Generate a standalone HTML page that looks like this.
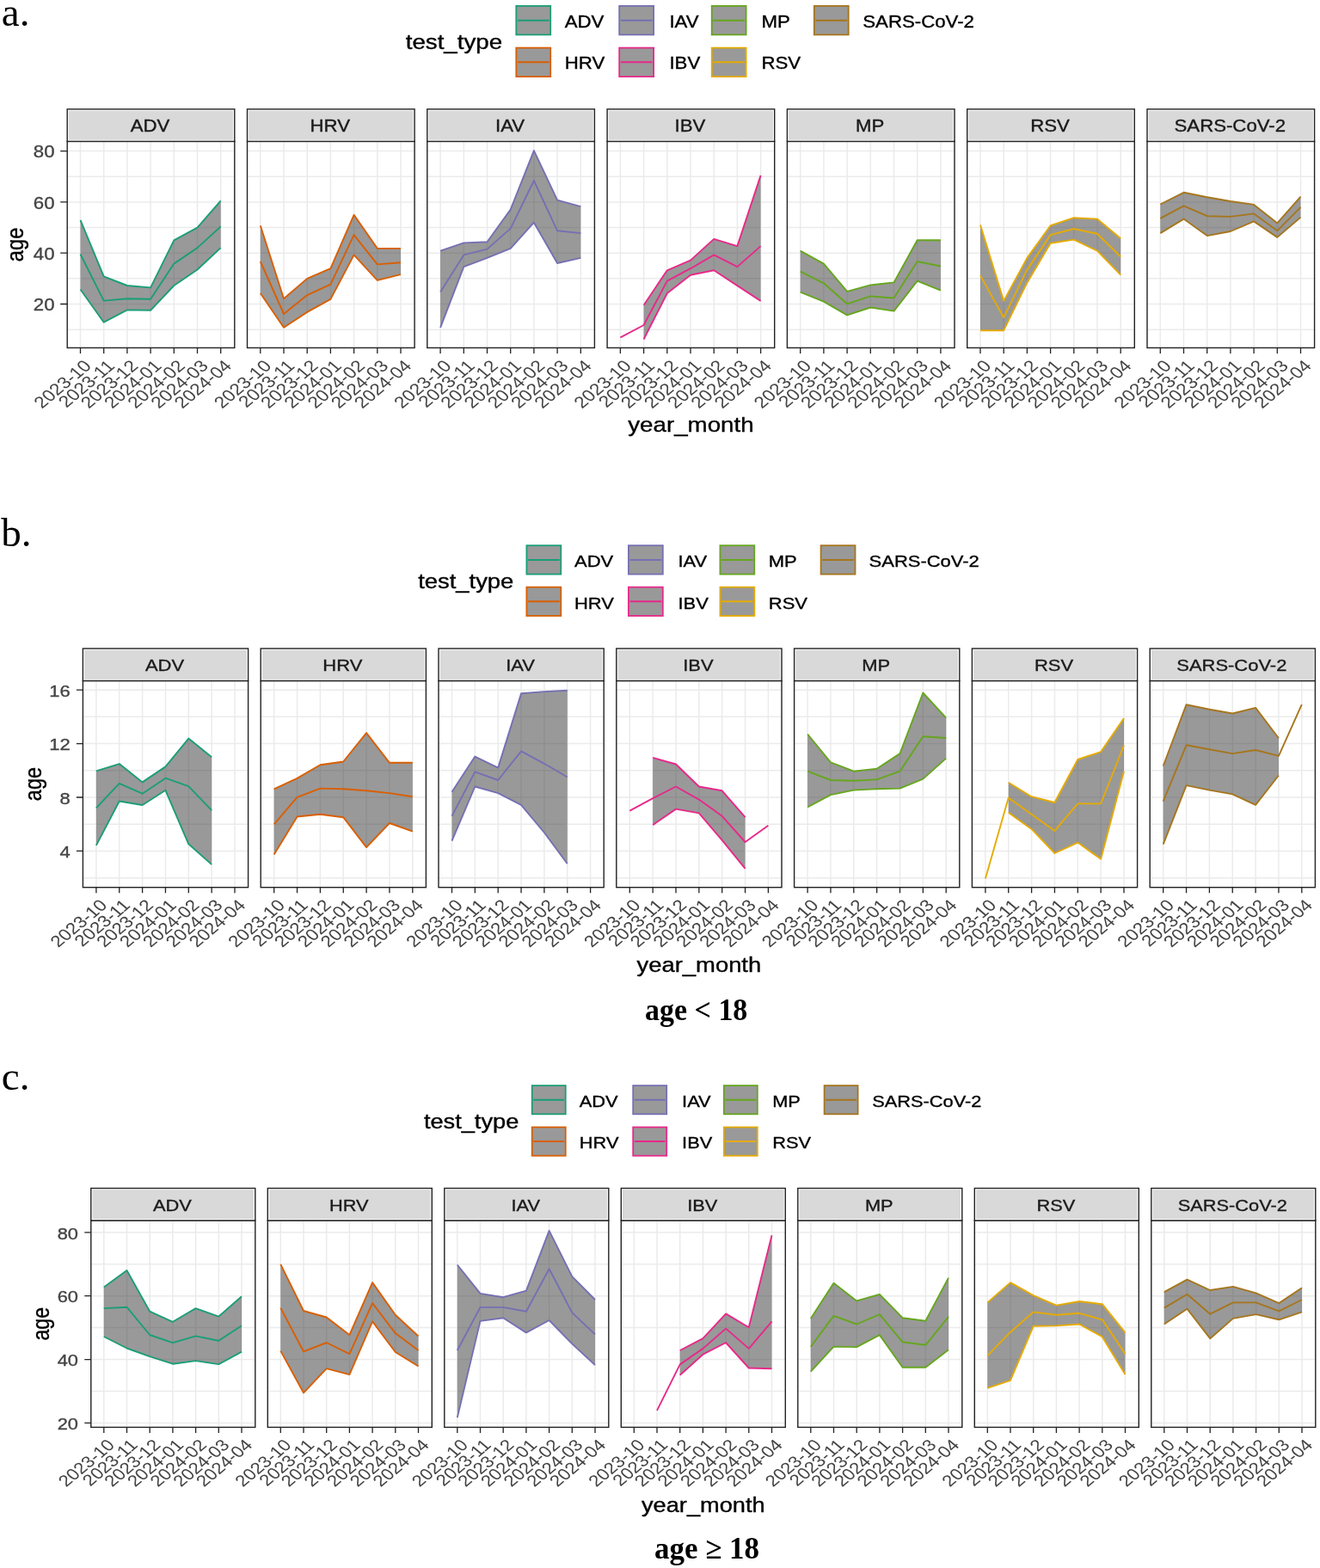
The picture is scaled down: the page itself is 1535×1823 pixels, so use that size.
<!DOCTYPE html>
<html><head><meta charset="utf-8"><title>Figure</title><style>html,body{margin:0;padding:0;background:#fff;}svg{display:block;}</style></head><body>
<svg width="1535" height="1823" viewBox="0 0 1535 1823">
<rect width="1535" height="1823" fill="#fff"/>
<rect x="78.2" y="164.4" width="194.6" height="240" fill="#fff"/>
<path d="M78.2 383.15H272.8M78.2 323.85H272.8M78.2 264.55H272.8M78.2 205.25H272.8" stroke="#EBEBEB" stroke-width="1.5" fill="none"/>
<path d="M78.2 353.5H272.8M78.2 294.2H272.8M78.2 234.9H272.8M78.2 175.6H272.8M93.5 164.4V404.4M120.7 164.4V404.4M147.9 164.4V404.4M175.1 164.4V404.4M202.3 164.4V404.4M229.5 164.4V404.4M256.7 164.4V404.4" stroke="#EBEBEB" stroke-width="1.5" fill="none"/>
<polygon points="93.5,255.8 120.7,321.3 147.9,332 175.1,334.4 202.3,279.3 229.5,264.6 256.7,233.4 256.7,288.1 229.5,313.5 202.3,332 175.1,360.8 147.9,360.4 120.7,374.7 93.5,336.5" fill="#333333" fill-opacity="0.5"/>
<polyline points="93.5,255.8 120.7,321.3 147.9,332 175.1,334.4 202.3,279.3 229.5,264.6 256.7,233.4" fill="none" stroke="#1B9E77" stroke-width="1.9" stroke-linejoin="round"/>
<polyline points="93.5,336.5 120.7,374.7 147.9,360.4 175.1,360.8 202.3,332 229.5,313.5 256.7,288.1" fill="none" stroke="#1B9E77" stroke-width="1.9" stroke-linejoin="round"/>
<polyline points="93.5,295.5 120.7,349.6 147.9,347.3 175.1,347.7 202.3,306.6 229.5,288.1 256.7,263.3" fill="none" stroke="#1B9E77" stroke-width="1.9" stroke-linejoin="round"/>
<rect x="78.2" y="164.4" width="194.6" height="240" fill="none" stroke="#222222" stroke-width="1.4"/>
<rect x="78.2" y="126.9" width="194.6" height="37.5" fill="#fff" stroke="#222222" stroke-width="1.4"/>
<rect x="79.9" y="128.6" width="191.2" height="34.1" fill="#D9D9D9"/>
<text transform="translate(174.5,153.17) scale(1.14,1)" font-size="19.5" text-anchor="middle" fill="#1A1A1A" font-family="'Liberation Sans', Arial, Helvetica, sans-serif" stroke="#1A1A1A" stroke-width="0.35">ADV</text>
<path d="M93.5 404.4V410.9M120.7 404.4V410.9M147.9 404.4V410.9M175.1 404.4V410.9M202.3 404.4V410.9M229.5 404.4V410.9M256.7 404.4V410.9" stroke="#222222" stroke-width="1.3" fill="none"/>
<text transform="translate(95.5,416.4) scale(1.19,1) rotate(-45)" font-size="19" text-anchor="end" fill="#444444" font-family="'Liberation Sans', Arial, Helvetica, sans-serif" dy="14.25">2023-10</text>
<text transform="translate(122.7,416.4) scale(1.19,1) rotate(-45)" font-size="19" text-anchor="end" fill="#444444" font-family="'Liberation Sans', Arial, Helvetica, sans-serif" dy="14.25">2023-11</text>
<text transform="translate(149.9,416.4) scale(1.19,1) rotate(-45)" font-size="19" text-anchor="end" fill="#444444" font-family="'Liberation Sans', Arial, Helvetica, sans-serif" dy="14.25">2023-12</text>
<text transform="translate(177.1,416.4) scale(1.19,1) rotate(-45)" font-size="19" text-anchor="end" fill="#444444" font-family="'Liberation Sans', Arial, Helvetica, sans-serif" dy="14.25">2024-01</text>
<text transform="translate(204.3,416.4) scale(1.19,1) rotate(-45)" font-size="19" text-anchor="end" fill="#444444" font-family="'Liberation Sans', Arial, Helvetica, sans-serif" dy="14.25">2024-02</text>
<text transform="translate(231.5,416.4) scale(1.19,1) rotate(-45)" font-size="19" text-anchor="end" fill="#444444" font-family="'Liberation Sans', Arial, Helvetica, sans-serif" dy="14.25">2024-03</text>
<text transform="translate(258.7,416.4) scale(1.19,1) rotate(-45)" font-size="19" text-anchor="end" fill="#444444" font-family="'Liberation Sans', Arial, Helvetica, sans-serif" dy="14.25">2024-04</text>
<rect x="287.5" y="164.4" width="194.6" height="240" fill="#fff"/>
<path d="M287.5 383.15H482.1M287.5 323.85H482.1M287.5 264.55H482.1M287.5 205.25H482.1" stroke="#EBEBEB" stroke-width="1.5" fill="none"/>
<path d="M287.5 353.5H482.1M287.5 294.2H482.1M287.5 234.9H482.1M287.5 175.6H482.1M302.8 164.4V404.4M330 164.4V404.4M357.2 164.4V404.4M384.4 164.4V404.4M411.6 164.4V404.4M438.8 164.4V404.4M466 164.4V404.4" stroke="#EBEBEB" stroke-width="1.5" fill="none"/>
<polygon points="302.8,262.2 330,347.2 357.2,323.9 384.4,312.2 411.6,249.8 438.8,288.9 466,288.9 466,319.1 438.8,325.9 411.6,296.4 384.4,347.9 357.2,362.9 330,380.8 302.8,341" fill="#333333" fill-opacity="0.5"/>
<polyline points="302.8,262.2 330,347.2 357.2,323.9 384.4,312.2 411.6,249.8 438.8,288.9 466,288.9" fill="none" stroke="#D95F02" stroke-width="1.9" stroke-linejoin="round"/>
<polyline points="302.8,341 330,380.8 357.2,362.9 384.4,347.9 411.6,296.4 438.8,325.9 466,319.1" fill="none" stroke="#D95F02" stroke-width="1.9" stroke-linejoin="round"/>
<polyline points="302.8,304 330,365 357.2,343.1 384.4,330.7 411.6,273.1 438.8,307.4 466,305.3" fill="none" stroke="#D95F02" stroke-width="1.9" stroke-linejoin="round"/>
<rect x="287.5" y="164.4" width="194.6" height="240" fill="none" stroke="#222222" stroke-width="1.4"/>
<rect x="287.5" y="126.9" width="194.6" height="37.5" fill="#fff" stroke="#222222" stroke-width="1.4"/>
<rect x="289.2" y="128.6" width="191.2" height="34.1" fill="#D9D9D9"/>
<text transform="translate(383.8,153.17) scale(1.14,1)" font-size="19.5" text-anchor="middle" fill="#1A1A1A" font-family="'Liberation Sans', Arial, Helvetica, sans-serif" stroke="#1A1A1A" stroke-width="0.35">HRV</text>
<path d="M302.8 404.4V410.9M330 404.4V410.9M357.2 404.4V410.9M384.4 404.4V410.9M411.6 404.4V410.9M438.8 404.4V410.9M466 404.4V410.9" stroke="#222222" stroke-width="1.3" fill="none"/>
<text transform="translate(304.8,416.4) scale(1.19,1) rotate(-45)" font-size="19" text-anchor="end" fill="#444444" font-family="'Liberation Sans', Arial, Helvetica, sans-serif" dy="14.25">2023-10</text>
<text transform="translate(332,416.4) scale(1.19,1) rotate(-45)" font-size="19" text-anchor="end" fill="#444444" font-family="'Liberation Sans', Arial, Helvetica, sans-serif" dy="14.25">2023-11</text>
<text transform="translate(359.2,416.4) scale(1.19,1) rotate(-45)" font-size="19" text-anchor="end" fill="#444444" font-family="'Liberation Sans', Arial, Helvetica, sans-serif" dy="14.25">2023-12</text>
<text transform="translate(386.4,416.4) scale(1.19,1) rotate(-45)" font-size="19" text-anchor="end" fill="#444444" font-family="'Liberation Sans', Arial, Helvetica, sans-serif" dy="14.25">2024-01</text>
<text transform="translate(413.6,416.4) scale(1.19,1) rotate(-45)" font-size="19" text-anchor="end" fill="#444444" font-family="'Liberation Sans', Arial, Helvetica, sans-serif" dy="14.25">2024-02</text>
<text transform="translate(440.8,416.4) scale(1.19,1) rotate(-45)" font-size="19" text-anchor="end" fill="#444444" font-family="'Liberation Sans', Arial, Helvetica, sans-serif" dy="14.25">2024-03</text>
<text transform="translate(468,416.4) scale(1.19,1) rotate(-45)" font-size="19" text-anchor="end" fill="#444444" font-family="'Liberation Sans', Arial, Helvetica, sans-serif" dy="14.25">2024-04</text>
<rect x="496.8" y="164.4" width="194.6" height="240" fill="#fff"/>
<path d="M496.8 383.15H691.4M496.8 323.85H691.4M496.8 264.55H691.4M496.8 205.25H691.4" stroke="#EBEBEB" stroke-width="1.5" fill="none"/>
<path d="M496.8 353.5H691.4M496.8 294.2H691.4M496.8 234.9H691.4M496.8 175.6H691.4M512.1 164.4V404.4M539.3 164.4V404.4M566.5 164.4V404.4M593.7 164.4V404.4M620.9 164.4V404.4M648.1 164.4V404.4M675.3 164.4V404.4" stroke="#EBEBEB" stroke-width="1.5" fill="none"/>
<polygon points="512.1,291.6 539.3,282.4 566.5,281.3 593.7,243.6 620.9,175.1 648.1,232.7 675.3,240.2 675.3,299.9 648.1,306 620.9,258.7 593.7,288.9 566.5,299.9 539.3,310.1 512.1,380.8" fill="#333333" fill-opacity="0.5"/>
<polyline points="512.1,291.6 539.3,282.4 566.5,281.3 593.7,243.6 620.9,175.1 648.1,232.7 675.3,240.2" fill="none" stroke="#7570B3" stroke-width="1.9" stroke-linejoin="round"/>
<polyline points="512.1,380.8 539.3,310.1 566.5,299.9 593.7,288.9 620.9,258.7 648.1,306 675.3,299.9" fill="none" stroke="#7570B3" stroke-width="1.9" stroke-linejoin="round"/>
<polyline points="512.1,339.6 539.3,296.4 566.5,289.6 593.7,265.6 620.9,210 648.1,268.3 675.3,271.1" fill="none" stroke="#7570B3" stroke-width="1.9" stroke-linejoin="round"/>
<rect x="496.8" y="164.4" width="194.6" height="240" fill="none" stroke="#222222" stroke-width="1.4"/>
<rect x="496.8" y="126.9" width="194.6" height="37.5" fill="#fff" stroke="#222222" stroke-width="1.4"/>
<rect x="498.5" y="128.6" width="191.2" height="34.1" fill="#D9D9D9"/>
<text transform="translate(593.1,153.17) scale(1.14,1)" font-size="19.5" text-anchor="middle" fill="#1A1A1A" font-family="'Liberation Sans', Arial, Helvetica, sans-serif" stroke="#1A1A1A" stroke-width="0.35">IAV</text>
<path d="M512.1 404.4V410.9M539.3 404.4V410.9M566.5 404.4V410.9M593.7 404.4V410.9M620.9 404.4V410.9M648.1 404.4V410.9M675.3 404.4V410.9" stroke="#222222" stroke-width="1.3" fill="none"/>
<text transform="translate(514.1,416.4) scale(1.19,1) rotate(-45)" font-size="19" text-anchor="end" fill="#444444" font-family="'Liberation Sans', Arial, Helvetica, sans-serif" dy="14.25">2023-10</text>
<text transform="translate(541.3,416.4) scale(1.19,1) rotate(-45)" font-size="19" text-anchor="end" fill="#444444" font-family="'Liberation Sans', Arial, Helvetica, sans-serif" dy="14.25">2023-11</text>
<text transform="translate(568.5,416.4) scale(1.19,1) rotate(-45)" font-size="19" text-anchor="end" fill="#444444" font-family="'Liberation Sans', Arial, Helvetica, sans-serif" dy="14.25">2023-12</text>
<text transform="translate(595.7,416.4) scale(1.19,1) rotate(-45)" font-size="19" text-anchor="end" fill="#444444" font-family="'Liberation Sans', Arial, Helvetica, sans-serif" dy="14.25">2024-01</text>
<text transform="translate(622.9,416.4) scale(1.19,1) rotate(-45)" font-size="19" text-anchor="end" fill="#444444" font-family="'Liberation Sans', Arial, Helvetica, sans-serif" dy="14.25">2024-02</text>
<text transform="translate(650.1,416.4) scale(1.19,1) rotate(-45)" font-size="19" text-anchor="end" fill="#444444" font-family="'Liberation Sans', Arial, Helvetica, sans-serif" dy="14.25">2024-03</text>
<text transform="translate(677.3,416.4) scale(1.19,1) rotate(-45)" font-size="19" text-anchor="end" fill="#444444" font-family="'Liberation Sans', Arial, Helvetica, sans-serif" dy="14.25">2024-04</text>
<rect x="706.1" y="164.4" width="194.6" height="240" fill="#fff"/>
<path d="M706.1 383.15H900.7M706.1 323.85H900.7M706.1 264.55H900.7M706.1 205.25H900.7" stroke="#EBEBEB" stroke-width="1.5" fill="none"/>
<path d="M706.1 353.5H900.7M706.1 294.2H900.7M706.1 234.9H900.7M706.1 175.6H900.7M721.4 164.4V404.4M748.6 164.4V404.4M775.8 164.4V404.4M803 164.4V404.4M830.2 164.4V404.4M857.4 164.4V404.4M884.6 164.4V404.4" stroke="#EBEBEB" stroke-width="1.5" fill="none"/>
<polygon points="748.6,354.7 775.8,314.3 803,302.6 830.2,277.9 857.4,286.1 884.6,203.9 884.6,349.9 857.4,332.1 830.2,314.3 803,319.7 775.8,341 748.6,394.5" fill="#333333" fill-opacity="0.5"/>
<polyline points="748.6,354.7 775.8,314.3 803,302.6 830.2,277.9 857.4,286.1 884.6,203.9" fill="none" stroke="#E7298A" stroke-width="1.9" stroke-linejoin="round"/>
<polyline points="748.6,394.5 775.8,341 803,319.7 830.2,314.3 857.4,332.1 884.6,349.9" fill="none" stroke="#E7298A" stroke-width="1.9" stroke-linejoin="round"/>
<polyline points="721.4,392.4 748.6,378 775.8,326.6 803,312.2 830.2,296.4 857.4,310.1 884.6,286.1" fill="none" stroke="#E7298A" stroke-width="1.9" stroke-linejoin="round"/>
<rect x="706.1" y="164.4" width="194.6" height="240" fill="none" stroke="#222222" stroke-width="1.4"/>
<rect x="706.1" y="126.9" width="194.6" height="37.5" fill="#fff" stroke="#222222" stroke-width="1.4"/>
<rect x="707.8" y="128.6" width="191.2" height="34.1" fill="#D9D9D9"/>
<text transform="translate(802.4,153.17) scale(1.14,1)" font-size="19.5" text-anchor="middle" fill="#1A1A1A" font-family="'Liberation Sans', Arial, Helvetica, sans-serif" stroke="#1A1A1A" stroke-width="0.35">IBV</text>
<path d="M721.4 404.4V410.9M748.6 404.4V410.9M775.8 404.4V410.9M803 404.4V410.9M830.2 404.4V410.9M857.4 404.4V410.9M884.6 404.4V410.9" stroke="#222222" stroke-width="1.3" fill="none"/>
<text transform="translate(723.4,416.4) scale(1.19,1) rotate(-45)" font-size="19" text-anchor="end" fill="#444444" font-family="'Liberation Sans', Arial, Helvetica, sans-serif" dy="14.25">2023-10</text>
<text transform="translate(750.6,416.4) scale(1.19,1) rotate(-45)" font-size="19" text-anchor="end" fill="#444444" font-family="'Liberation Sans', Arial, Helvetica, sans-serif" dy="14.25">2023-11</text>
<text transform="translate(777.8,416.4) scale(1.19,1) rotate(-45)" font-size="19" text-anchor="end" fill="#444444" font-family="'Liberation Sans', Arial, Helvetica, sans-serif" dy="14.25">2023-12</text>
<text transform="translate(805,416.4) scale(1.19,1) rotate(-45)" font-size="19" text-anchor="end" fill="#444444" font-family="'Liberation Sans', Arial, Helvetica, sans-serif" dy="14.25">2024-01</text>
<text transform="translate(832.2,416.4) scale(1.19,1) rotate(-45)" font-size="19" text-anchor="end" fill="#444444" font-family="'Liberation Sans', Arial, Helvetica, sans-serif" dy="14.25">2024-02</text>
<text transform="translate(859.4,416.4) scale(1.19,1) rotate(-45)" font-size="19" text-anchor="end" fill="#444444" font-family="'Liberation Sans', Arial, Helvetica, sans-serif" dy="14.25">2024-03</text>
<text transform="translate(886.6,416.4) scale(1.19,1) rotate(-45)" font-size="19" text-anchor="end" fill="#444444" font-family="'Liberation Sans', Arial, Helvetica, sans-serif" dy="14.25">2024-04</text>
<rect x="915.4" y="164.4" width="194.6" height="240" fill="#fff"/>
<path d="M915.4 383.15H1110M915.4 323.85H1110M915.4 264.55H1110M915.4 205.25H1110" stroke="#EBEBEB" stroke-width="1.5" fill="none"/>
<path d="M915.4 353.5H1110M915.4 294.2H1110M915.4 234.9H1110M915.4 175.6H1110M930.7 164.4V404.4M957.9 164.4V404.4M985.1 164.4V404.4M1012.3 164.4V404.4M1039.5 164.4V404.4M1066.7 164.4V404.4M1093.9 164.4V404.4" stroke="#EBEBEB" stroke-width="1.5" fill="none"/>
<polygon points="930.7,291.6 957.9,306.7 985.1,338.9 1012.3,331.4 1039.5,328.4 1066.7,279.3 1093.9,279.3 1093.9,337.6 1066.7,326.6 1039.5,361.6 1012.3,357.5 985.1,366.4 957.9,350.6 930.7,339.6" fill="#333333" fill-opacity="0.5"/>
<polyline points="930.7,291.6 957.9,306.7 985.1,338.9 1012.3,331.4 1039.5,328.4 1066.7,279.3 1093.9,279.3" fill="none" stroke="#66A61E" stroke-width="1.9" stroke-linejoin="round"/>
<polyline points="930.7,339.6 957.9,350.6 985.1,366.4 1012.3,357.5 1039.5,361.6 1066.7,326.6 1093.9,337.6" fill="none" stroke="#66A61E" stroke-width="1.9" stroke-linejoin="round"/>
<polyline points="930.7,315.6 957.9,329.3 985.1,353.3 1012.3,344.4 1039.5,346.5 1066.7,304 1093.9,309.5" fill="none" stroke="#66A61E" stroke-width="1.9" stroke-linejoin="round"/>
<rect x="915.4" y="164.4" width="194.6" height="240" fill="none" stroke="#222222" stroke-width="1.4"/>
<rect x="915.4" y="126.9" width="194.6" height="37.5" fill="#fff" stroke="#222222" stroke-width="1.4"/>
<rect x="917.1" y="128.6" width="191.2" height="34.1" fill="#D9D9D9"/>
<text transform="translate(1011.7,153.17) scale(1.14,1)" font-size="19.5" text-anchor="middle" fill="#1A1A1A" font-family="'Liberation Sans', Arial, Helvetica, sans-serif" stroke="#1A1A1A" stroke-width="0.35">MP</text>
<path d="M930.7 404.4V410.9M957.9 404.4V410.9M985.1 404.4V410.9M1012.3 404.4V410.9M1039.5 404.4V410.9M1066.7 404.4V410.9M1093.9 404.4V410.9" stroke="#222222" stroke-width="1.3" fill="none"/>
<text transform="translate(932.7,416.4) scale(1.19,1) rotate(-45)" font-size="19" text-anchor="end" fill="#444444" font-family="'Liberation Sans', Arial, Helvetica, sans-serif" dy="14.25">2023-10</text>
<text transform="translate(959.9,416.4) scale(1.19,1) rotate(-45)" font-size="19" text-anchor="end" fill="#444444" font-family="'Liberation Sans', Arial, Helvetica, sans-serif" dy="14.25">2023-11</text>
<text transform="translate(987.1,416.4) scale(1.19,1) rotate(-45)" font-size="19" text-anchor="end" fill="#444444" font-family="'Liberation Sans', Arial, Helvetica, sans-serif" dy="14.25">2023-12</text>
<text transform="translate(1014.3,416.4) scale(1.19,1) rotate(-45)" font-size="19" text-anchor="end" fill="#444444" font-family="'Liberation Sans', Arial, Helvetica, sans-serif" dy="14.25">2024-01</text>
<text transform="translate(1041.5,416.4) scale(1.19,1) rotate(-45)" font-size="19" text-anchor="end" fill="#444444" font-family="'Liberation Sans', Arial, Helvetica, sans-serif" dy="14.25">2024-02</text>
<text transform="translate(1068.7,416.4) scale(1.19,1) rotate(-45)" font-size="19" text-anchor="end" fill="#444444" font-family="'Liberation Sans', Arial, Helvetica, sans-serif" dy="14.25">2024-03</text>
<text transform="translate(1095.9,416.4) scale(1.19,1) rotate(-45)" font-size="19" text-anchor="end" fill="#444444" font-family="'Liberation Sans', Arial, Helvetica, sans-serif" dy="14.25">2024-04</text>
<rect x="1124.7" y="164.4" width="194.6" height="240" fill="#fff"/>
<path d="M1124.7 383.15H1319.3M1124.7 323.85H1319.3M1124.7 264.55H1319.3M1124.7 205.25H1319.3" stroke="#EBEBEB" stroke-width="1.5" fill="none"/>
<path d="M1124.7 353.5H1319.3M1124.7 294.2H1319.3M1124.7 234.9H1319.3M1124.7 175.6H1319.3M1140 164.4V404.4M1167.2 164.4V404.4M1194.4 164.4V404.4M1221.6 164.4V404.4M1248.8 164.4V404.4M1276 164.4V404.4M1303.2 164.4V404.4" stroke="#EBEBEB" stroke-width="1.5" fill="none"/>
<polygon points="1140,261.5 1167.2,349.9 1194.4,299.9 1221.6,262.2 1248.8,253.2 1276,254.6 1303.2,277.2 1303.2,319.7 1276,291.6 1248.8,278.6 1221.6,282.7 1194.4,328.7 1167.2,384.2 1140,384.2" fill="#333333" fill-opacity="0.5"/>
<polyline points="1140,261.5 1167.2,349.9 1194.4,299.9 1221.6,262.2 1248.8,253.2 1276,254.6 1303.2,277.2" fill="none" stroke="#E6AB02" stroke-width="1.9" stroke-linejoin="round"/>
<polyline points="1140,384.2 1167.2,384.2 1194.4,328.7 1221.6,282.7 1248.8,278.6 1276,291.6 1303.2,319.7" fill="none" stroke="#E6AB02" stroke-width="1.9" stroke-linejoin="round"/>
<polyline points="1140,320.4 1167.2,369.1 1194.4,313.6 1221.6,273.1 1248.8,266 1276,271.8 1303.2,298.5" fill="none" stroke="#E6AB02" stroke-width="1.9" stroke-linejoin="round"/>
<rect x="1124.7" y="164.4" width="194.6" height="240" fill="none" stroke="#222222" stroke-width="1.4"/>
<rect x="1124.7" y="126.9" width="194.6" height="37.5" fill="#fff" stroke="#222222" stroke-width="1.4"/>
<rect x="1126.4" y="128.6" width="191.2" height="34.1" fill="#D9D9D9"/>
<text transform="translate(1221,153.17) scale(1.14,1)" font-size="19.5" text-anchor="middle" fill="#1A1A1A" font-family="'Liberation Sans', Arial, Helvetica, sans-serif" stroke="#1A1A1A" stroke-width="0.35">RSV</text>
<path d="M1140 404.4V410.9M1167.2 404.4V410.9M1194.4 404.4V410.9M1221.6 404.4V410.9M1248.8 404.4V410.9M1276 404.4V410.9M1303.2 404.4V410.9" stroke="#222222" stroke-width="1.3" fill="none"/>
<text transform="translate(1142,416.4) scale(1.19,1) rotate(-45)" font-size="19" text-anchor="end" fill="#444444" font-family="'Liberation Sans', Arial, Helvetica, sans-serif" dy="14.25">2023-10</text>
<text transform="translate(1169.2,416.4) scale(1.19,1) rotate(-45)" font-size="19" text-anchor="end" fill="#444444" font-family="'Liberation Sans', Arial, Helvetica, sans-serif" dy="14.25">2023-11</text>
<text transform="translate(1196.4,416.4) scale(1.19,1) rotate(-45)" font-size="19" text-anchor="end" fill="#444444" font-family="'Liberation Sans', Arial, Helvetica, sans-serif" dy="14.25">2023-12</text>
<text transform="translate(1223.6,416.4) scale(1.19,1) rotate(-45)" font-size="19" text-anchor="end" fill="#444444" font-family="'Liberation Sans', Arial, Helvetica, sans-serif" dy="14.25">2024-01</text>
<text transform="translate(1250.8,416.4) scale(1.19,1) rotate(-45)" font-size="19" text-anchor="end" fill="#444444" font-family="'Liberation Sans', Arial, Helvetica, sans-serif" dy="14.25">2024-02</text>
<text transform="translate(1278,416.4) scale(1.19,1) rotate(-45)" font-size="19" text-anchor="end" fill="#444444" font-family="'Liberation Sans', Arial, Helvetica, sans-serif" dy="14.25">2024-03</text>
<text transform="translate(1305.2,416.4) scale(1.19,1) rotate(-45)" font-size="19" text-anchor="end" fill="#444444" font-family="'Liberation Sans', Arial, Helvetica, sans-serif" dy="14.25">2024-04</text>
<rect x="1334" y="164.4" width="194.6" height="240" fill="#fff"/>
<path d="M1334 383.15H1528.6M1334 323.85H1528.6M1334 264.55H1528.6M1334 205.25H1528.6" stroke="#EBEBEB" stroke-width="1.5" fill="none"/>
<path d="M1334 353.5H1528.6M1334 294.2H1528.6M1334 234.9H1528.6M1334 175.6H1528.6M1349.3 164.4V404.4M1376.5 164.4V404.4M1403.7 164.4V404.4M1430.9 164.4V404.4M1458.1 164.4V404.4M1485.3 164.4V404.4M1512.5 164.4V404.4" stroke="#EBEBEB" stroke-width="1.5" fill="none"/>
<polygon points="1349.3,237.5 1376.5,223.8 1403.7,229.2 1430.9,234 1458.1,237.9 1485.3,259.4 1512.5,228.6 1512.5,252.6 1485.3,275.9 1458.1,257.4 1430.9,269 1403.7,274.1 1376.5,254.6 1349.3,271.1" fill="#333333" fill-opacity="0.5"/>
<polyline points="1349.3,237.5 1376.5,223.8 1403.7,229.2 1430.9,234 1458.1,237.9 1485.3,259.4 1512.5,228.6" fill="none" stroke="#A6761D" stroke-width="1.9" stroke-linejoin="round"/>
<polyline points="1349.3,271.1 1376.5,254.6 1403.7,274.1 1430.9,269 1458.1,257.4 1485.3,275.9 1512.5,252.6" fill="none" stroke="#A6761D" stroke-width="1.9" stroke-linejoin="round"/>
<polyline points="1349.3,253.9 1376.5,239.3 1403.7,251.2 1430.9,251.9 1458.1,248.4 1485.3,268.3 1512.5,240.9" fill="none" stroke="#A6761D" stroke-width="1.9" stroke-linejoin="round"/>
<rect x="1334" y="164.4" width="194.6" height="240" fill="none" stroke="#222222" stroke-width="1.4"/>
<rect x="1334" y="126.9" width="194.6" height="37.5" fill="#fff" stroke="#222222" stroke-width="1.4"/>
<rect x="1335.7" y="128.6" width="191.2" height="34.1" fill="#D9D9D9"/>
<text transform="translate(1430.3,153.17) scale(1.14,1)" font-size="19.5" text-anchor="middle" fill="#1A1A1A" font-family="'Liberation Sans', Arial, Helvetica, sans-serif" stroke="#1A1A1A" stroke-width="0.35">SARS-CoV-2</text>
<path d="M1349.3 404.4V410.9M1376.5 404.4V410.9M1403.7 404.4V410.9M1430.9 404.4V410.9M1458.1 404.4V410.9M1485.3 404.4V410.9M1512.5 404.4V410.9" stroke="#222222" stroke-width="1.3" fill="none"/>
<text transform="translate(1351.3,416.4) scale(1.19,1) rotate(-45)" font-size="19" text-anchor="end" fill="#444444" font-family="'Liberation Sans', Arial, Helvetica, sans-serif" dy="14.25">2023-10</text>
<text transform="translate(1378.5,416.4) scale(1.19,1) rotate(-45)" font-size="19" text-anchor="end" fill="#444444" font-family="'Liberation Sans', Arial, Helvetica, sans-serif" dy="14.25">2023-11</text>
<text transform="translate(1405.7,416.4) scale(1.19,1) rotate(-45)" font-size="19" text-anchor="end" fill="#444444" font-family="'Liberation Sans', Arial, Helvetica, sans-serif" dy="14.25">2023-12</text>
<text transform="translate(1432.9,416.4) scale(1.19,1) rotate(-45)" font-size="19" text-anchor="end" fill="#444444" font-family="'Liberation Sans', Arial, Helvetica, sans-serif" dy="14.25">2024-01</text>
<text transform="translate(1460.1,416.4) scale(1.19,1) rotate(-45)" font-size="19" text-anchor="end" fill="#444444" font-family="'Liberation Sans', Arial, Helvetica, sans-serif" dy="14.25">2024-02</text>
<text transform="translate(1487.3,416.4) scale(1.19,1) rotate(-45)" font-size="19" text-anchor="end" fill="#444444" font-family="'Liberation Sans', Arial, Helvetica, sans-serif" dy="14.25">2024-03</text>
<text transform="translate(1514.5,416.4) scale(1.19,1) rotate(-45)" font-size="19" text-anchor="end" fill="#444444" font-family="'Liberation Sans', Arial, Helvetica, sans-serif" dy="14.25">2024-04</text>
<text transform="translate(63.5,361.32) scale(1.14,1)" font-size="19.5" text-anchor="end" fill="#444444" font-family="'Liberation Sans', Arial, Helvetica, sans-serif" stroke="#444444" stroke-width="0.35">20</text>
<text transform="translate(63.5,302.02) scale(1.14,1)" font-size="19.5" text-anchor="end" fill="#444444" font-family="'Liberation Sans', Arial, Helvetica, sans-serif" stroke="#444444" stroke-width="0.35">40</text>
<text transform="translate(63.5,242.72) scale(1.14,1)" font-size="19.5" text-anchor="end" fill="#444444" font-family="'Liberation Sans', Arial, Helvetica, sans-serif" stroke="#444444" stroke-width="0.35">60</text>
<text transform="translate(63.5,183.42) scale(1.14,1)" font-size="19.5" text-anchor="end" fill="#444444" font-family="'Liberation Sans', Arial, Helvetica, sans-serif" stroke="#444444" stroke-width="0.35">80</text>
<path d="M70.2 353.5H78.2M70.2 294.2H78.2M70.2 234.9H78.2M70.2 175.6H78.2" stroke="#222222" stroke-width="1.3" fill="none"/>
<text transform="translate(27.3,284.4) scale(1.17,1) rotate(-90)" font-size="23.7" text-anchor="middle" fill="#000" font-family="'Liberation Sans', Arial, Helvetica, sans-serif" stroke="#000" stroke-width="0.35">age</text>
<text transform="translate(803.4,502.3) scale(1.17,1)" font-size="23.7" text-anchor="middle" fill="#000" font-family="'Liberation Sans', Arial, Helvetica, sans-serif" stroke="#000" stroke-width="0.35">year_month</text>
<text transform="translate(471.7,56.8) scale(1.17,1)" font-size="23.7" text-anchor="start" fill="#000" font-family="'Liberation Sans', Arial, Helvetica, sans-serif" stroke="#000" stroke-width="0.35">test_type</text>
<rect x="600.3" y="6.9" width="39.9" height="33.5" fill="#999999" stroke="#1B9E77" stroke-width="1.8"/>
<path d="M601.9 23.65H638.6" stroke="#1B9E77" stroke-width="2"/>
<text transform="translate(656.7,31.8) scale(1.14,1)" font-size="19.5" text-anchor="start" fill="#000" font-family="'Liberation Sans', Arial, Helvetica, sans-serif" stroke="#000" stroke-width="0.35">ADV</text>
<rect x="600.3" y="55.6" width="39.9" height="33.5" fill="#999999" stroke="#D95F02" stroke-width="1.8"/>
<path d="M601.9 72.35H638.6" stroke="#D95F02" stroke-width="2"/>
<text transform="translate(656.7,80.2) scale(1.14,1)" font-size="19.5" text-anchor="start" fill="#000" font-family="'Liberation Sans', Arial, Helvetica, sans-serif" stroke="#000" stroke-width="0.35">HRV</text>
<rect x="720.2" y="6.9" width="39.9" height="33.5" fill="#999999" stroke="#7570B3" stroke-width="1.8"/>
<path d="M721.8 23.65H758.5" stroke="#7570B3" stroke-width="2"/>
<text transform="translate(778.4,31.8) scale(1.14,1)" font-size="19.5" text-anchor="start" fill="#000" font-family="'Liberation Sans', Arial, Helvetica, sans-serif" stroke="#000" stroke-width="0.35">IAV</text>
<rect x="720.2" y="55.6" width="39.9" height="33.5" fill="#999999" stroke="#E7298A" stroke-width="1.8"/>
<path d="M721.8 72.35H758.5" stroke="#E7298A" stroke-width="2"/>
<text transform="translate(778.4,80.2) scale(1.14,1)" font-size="19.5" text-anchor="start" fill="#000" font-family="'Liberation Sans', Arial, Helvetica, sans-serif" stroke="#000" stroke-width="0.35">IBV</text>
<rect x="827.7" y="6.9" width="39.9" height="33.5" fill="#999999" stroke="#66A61E" stroke-width="1.8"/>
<path d="M829.3 23.65H866" stroke="#66A61E" stroke-width="2"/>
<text transform="translate(885.5,31.8) scale(1.14,1)" font-size="19.5" text-anchor="start" fill="#000" font-family="'Liberation Sans', Arial, Helvetica, sans-serif" stroke="#000" stroke-width="0.35">MP</text>
<rect x="827.7" y="55.6" width="39.9" height="33.5" fill="#999999" stroke="#E6AB02" stroke-width="1.8"/>
<path d="M829.3 72.35H866" stroke="#E6AB02" stroke-width="2"/>
<text transform="translate(885.5,80.2) scale(1.14,1)" font-size="19.5" text-anchor="start" fill="#000" font-family="'Liberation Sans', Arial, Helvetica, sans-serif" stroke="#000" stroke-width="0.35">RSV</text>
<rect x="946.8" y="6.9" width="39.9" height="33.5" fill="#999999" stroke="#A6761D" stroke-width="1.8"/>
<path d="M948.4 23.65H985.1" stroke="#A6761D" stroke-width="2"/>
<text transform="translate(1003.3,31.8) scale(1.14,1)" font-size="19.5" text-anchor="start" fill="#000" font-family="'Liberation Sans', Arial, Helvetica, sans-serif" stroke="#000" stroke-width="0.35">SARS-CoV-2</text>
<text transform="translate(1.8,30.1)" font-size="47" text-anchor="start" fill="#000" font-family="'Liberation Serif', 'Times New Roman', serif">a.</text>
<rect x="96.4" y="791.5" width="192.2" height="240.2" fill="#fff"/>
<path d="M96.4 1020.68H288.6M96.4 958.24H288.6M96.4 895.8H288.6M96.4 833.36H288.6" stroke="#EBEBEB" stroke-width="1.5" fill="none"/>
<path d="M96.4 989.46H288.6M96.4 927.02H288.6M96.4 864.58H288.6M96.4 802.14H288.6M111.9 791.5V1031.7M138.75 791.5V1031.7M165.6 791.5V1031.7M192.45 791.5V1031.7M219.3 791.5V1031.7M246.15 791.5V1031.7M273 791.5V1031.7" stroke="#EBEBEB" stroke-width="1.5" fill="none"/>
<polygon points="111.9,896.3 138.75,888.1 165.6,909.4 192.45,891.4 219.3,858.6 246.15,880.3 246.15,1005.1 219.3,981.3 192.45,918.8 165.6,936 138.75,931.5 111.9,982.9" fill="#333333" fill-opacity="0.5"/>
<polyline points="111.9,896.3 138.75,888.1 165.6,909.4 192.45,891.4 219.3,858.6 246.15,880.3" fill="none" stroke="#1B9E77" stroke-width="1.9" stroke-linejoin="round"/>
<polyline points="111.9,982.9 138.75,931.5 165.6,936 192.45,918.8 219.3,981.3 246.15,1005.1" fill="none" stroke="#1B9E77" stroke-width="1.9" stroke-linejoin="round"/>
<polyline points="111.9,939.3 138.75,910.9 165.6,922.7 192.45,904.7 219.3,914.1 246.15,942.2" fill="none" stroke="#1B9E77" stroke-width="1.9" stroke-linejoin="round"/>
<rect x="96.4" y="791.5" width="192.2" height="240.2" fill="none" stroke="#222222" stroke-width="1.4"/>
<rect x="96.4" y="754" width="192.2" height="37.5" fill="#fff" stroke="#222222" stroke-width="1.4"/>
<rect x="98.1" y="755.7" width="188.8" height="34.1" fill="#D9D9D9"/>
<text transform="translate(191.5,780.19) scale(1.14,1)" font-size="19.27" text-anchor="middle" fill="#1A1A1A" font-family="'Liberation Sans', Arial, Helvetica, sans-serif" stroke="#1A1A1A" stroke-width="0.35">ADV</text>
<path d="M111.9 1031.7V1038.2M138.75 1031.7V1038.2M165.6 1031.7V1038.2M192.45 1031.7V1038.2M219.3 1031.7V1038.2M246.15 1031.7V1038.2M273 1031.7V1038.2" stroke="#222222" stroke-width="1.3" fill="none"/>
<text transform="translate(113.9,1043.7) scale(1.19,1) rotate(-45)" font-size="18.77" text-anchor="end" fill="#444444" font-family="'Liberation Sans', Arial, Helvetica, sans-serif" dy="14.08">2023-10</text>
<text transform="translate(140.75,1043.7) scale(1.19,1) rotate(-45)" font-size="18.77" text-anchor="end" fill="#444444" font-family="'Liberation Sans', Arial, Helvetica, sans-serif" dy="14.08">2023-11</text>
<text transform="translate(167.6,1043.7) scale(1.19,1) rotate(-45)" font-size="18.77" text-anchor="end" fill="#444444" font-family="'Liberation Sans', Arial, Helvetica, sans-serif" dy="14.08">2023-12</text>
<text transform="translate(194.45,1043.7) scale(1.19,1) rotate(-45)" font-size="18.77" text-anchor="end" fill="#444444" font-family="'Liberation Sans', Arial, Helvetica, sans-serif" dy="14.08">2024-01</text>
<text transform="translate(221.3,1043.7) scale(1.19,1) rotate(-45)" font-size="18.77" text-anchor="end" fill="#444444" font-family="'Liberation Sans', Arial, Helvetica, sans-serif" dy="14.08">2024-02</text>
<text transform="translate(248.15,1043.7) scale(1.19,1) rotate(-45)" font-size="18.77" text-anchor="end" fill="#444444" font-family="'Liberation Sans', Arial, Helvetica, sans-serif" dy="14.08">2024-03</text>
<text transform="translate(275,1043.7) scale(1.19,1) rotate(-45)" font-size="18.77" text-anchor="end" fill="#444444" font-family="'Liberation Sans', Arial, Helvetica, sans-serif" dy="14.08">2024-04</text>
<rect x="303.2" y="791.5" width="192.2" height="240.2" fill="#fff"/>
<path d="M303.2 1020.68H495.4M303.2 958.24H495.4M303.2 895.8H495.4M303.2 833.36H495.4" stroke="#EBEBEB" stroke-width="1.5" fill="none"/>
<path d="M303.2 989.46H495.4M303.2 927.02H495.4M303.2 864.58H495.4M303.2 802.14H495.4M318.7 791.5V1031.7M345.55 791.5V1031.7M372.4 791.5V1031.7M399.25 791.5V1031.7M426.1 791.5V1031.7M452.95 791.5V1031.7M479.8 791.5V1031.7" stroke="#EBEBEB" stroke-width="1.5" fill="none"/>
<polygon points="318.7,917.3 345.55,904.9 372.4,889.2 399.25,885.5 426.1,852.1 452.95,886.8 479.8,886.8 479.8,966.6 452.95,957 426.1,985.1 399.25,950.2 372.4,946.7 345.55,949.5 318.7,993.4" fill="#333333" fill-opacity="0.5"/>
<polyline points="318.7,917.3 345.55,904.9 372.4,889.2 399.25,885.5 426.1,852.1 452.95,886.8 479.8,886.8" fill="none" stroke="#D95F02" stroke-width="1.9" stroke-linejoin="round"/>
<polyline points="318.7,993.4 345.55,949.5 372.4,946.7 399.25,950.2 426.1,985.1 452.95,957 479.8,966.6" fill="none" stroke="#D95F02" stroke-width="1.9" stroke-linejoin="round"/>
<polyline points="318.7,958.4 345.55,926.9 372.4,916.6 399.25,917.3 426.1,919.3 452.95,922.1 479.8,926.2" fill="none" stroke="#D95F02" stroke-width="1.9" stroke-linejoin="round"/>
<rect x="303.2" y="791.5" width="192.2" height="240.2" fill="none" stroke="#222222" stroke-width="1.4"/>
<rect x="303.2" y="754" width="192.2" height="37.5" fill="#fff" stroke="#222222" stroke-width="1.4"/>
<rect x="304.9" y="755.7" width="188.8" height="34.1" fill="#D9D9D9"/>
<text transform="translate(398.3,780.19) scale(1.14,1)" font-size="19.27" text-anchor="middle" fill="#1A1A1A" font-family="'Liberation Sans', Arial, Helvetica, sans-serif" stroke="#1A1A1A" stroke-width="0.35">HRV</text>
<path d="M318.7 1031.7V1038.2M345.55 1031.7V1038.2M372.4 1031.7V1038.2M399.25 1031.7V1038.2M426.1 1031.7V1038.2M452.95 1031.7V1038.2M479.8 1031.7V1038.2" stroke="#222222" stroke-width="1.3" fill="none"/>
<text transform="translate(320.7,1043.7) scale(1.19,1) rotate(-45)" font-size="18.77" text-anchor="end" fill="#444444" font-family="'Liberation Sans', Arial, Helvetica, sans-serif" dy="14.08">2023-10</text>
<text transform="translate(347.55,1043.7) scale(1.19,1) rotate(-45)" font-size="18.77" text-anchor="end" fill="#444444" font-family="'Liberation Sans', Arial, Helvetica, sans-serif" dy="14.08">2023-11</text>
<text transform="translate(374.4,1043.7) scale(1.19,1) rotate(-45)" font-size="18.77" text-anchor="end" fill="#444444" font-family="'Liberation Sans', Arial, Helvetica, sans-serif" dy="14.08">2023-12</text>
<text transform="translate(401.25,1043.7) scale(1.19,1) rotate(-45)" font-size="18.77" text-anchor="end" fill="#444444" font-family="'Liberation Sans', Arial, Helvetica, sans-serif" dy="14.08">2024-01</text>
<text transform="translate(428.1,1043.7) scale(1.19,1) rotate(-45)" font-size="18.77" text-anchor="end" fill="#444444" font-family="'Liberation Sans', Arial, Helvetica, sans-serif" dy="14.08">2024-02</text>
<text transform="translate(454.95,1043.7) scale(1.19,1) rotate(-45)" font-size="18.77" text-anchor="end" fill="#444444" font-family="'Liberation Sans', Arial, Helvetica, sans-serif" dy="14.08">2024-03</text>
<text transform="translate(481.8,1043.7) scale(1.19,1) rotate(-45)" font-size="18.77" text-anchor="end" fill="#444444" font-family="'Liberation Sans', Arial, Helvetica, sans-serif" dy="14.08">2024-04</text>
<rect x="510" y="791.5" width="192.2" height="240.2" fill="#fff"/>
<path d="M510 1020.68H702.2M510 958.24H702.2M510 895.8H702.2M510 833.36H702.2" stroke="#EBEBEB" stroke-width="1.5" fill="none"/>
<path d="M510 989.46H702.2M510 927.02H702.2M510 864.58H702.2M510 802.14H702.2M525.5 791.5V1031.7M552.35 791.5V1031.7M579.2 791.5V1031.7M606.05 791.5V1031.7M632.9 791.5V1031.7M659.75 791.5V1031.7M686.6 791.5V1031.7" stroke="#EBEBEB" stroke-width="1.5" fill="none"/>
<polygon points="525.5,920.7 552.35,879.6 579.2,892.6 606.05,806.2 632.9,804.1 659.75,802.8 659.75,1004.3 632.9,968 606.05,935.8 579.2,922.1 552.35,914.5 525.5,977.6" fill="#333333" fill-opacity="0.5"/>
<polyline points="525.5,920.7 552.35,879.6 579.2,892.6 606.05,806.2 632.9,804.1 659.75,802.8" fill="none" stroke="#7570B3" stroke-width="1.9" stroke-linejoin="round"/>
<polyline points="525.5,977.6 552.35,914.5 579.2,922.1 606.05,935.8 632.9,968 659.75,1004.3" fill="none" stroke="#7570B3" stroke-width="1.9" stroke-linejoin="round"/>
<polyline points="525.5,948.8 552.35,897.4 579.2,907 606.05,873.4 632.9,887.8 659.75,903.5" fill="none" stroke="#7570B3" stroke-width="1.9" stroke-linejoin="round"/>
<rect x="510" y="791.5" width="192.2" height="240.2" fill="none" stroke="#222222" stroke-width="1.4"/>
<rect x="510" y="754" width="192.2" height="37.5" fill="#fff" stroke="#222222" stroke-width="1.4"/>
<rect x="511.7" y="755.7" width="188.8" height="34.1" fill="#D9D9D9"/>
<text transform="translate(605.1,780.19) scale(1.14,1)" font-size="19.27" text-anchor="middle" fill="#1A1A1A" font-family="'Liberation Sans', Arial, Helvetica, sans-serif" stroke="#1A1A1A" stroke-width="0.35">IAV</text>
<path d="M525.5 1031.7V1038.2M552.35 1031.7V1038.2M579.2 1031.7V1038.2M606.05 1031.7V1038.2M632.9 1031.7V1038.2M659.75 1031.7V1038.2M686.6 1031.7V1038.2" stroke="#222222" stroke-width="1.3" fill="none"/>
<text transform="translate(527.5,1043.7) scale(1.19,1) rotate(-45)" font-size="18.77" text-anchor="end" fill="#444444" font-family="'Liberation Sans', Arial, Helvetica, sans-serif" dy="14.08">2023-10</text>
<text transform="translate(554.35,1043.7) scale(1.19,1) rotate(-45)" font-size="18.77" text-anchor="end" fill="#444444" font-family="'Liberation Sans', Arial, Helvetica, sans-serif" dy="14.08">2023-11</text>
<text transform="translate(581.2,1043.7) scale(1.19,1) rotate(-45)" font-size="18.77" text-anchor="end" fill="#444444" font-family="'Liberation Sans', Arial, Helvetica, sans-serif" dy="14.08">2023-12</text>
<text transform="translate(608.05,1043.7) scale(1.19,1) rotate(-45)" font-size="18.77" text-anchor="end" fill="#444444" font-family="'Liberation Sans', Arial, Helvetica, sans-serif" dy="14.08">2024-01</text>
<text transform="translate(634.9,1043.7) scale(1.19,1) rotate(-45)" font-size="18.77" text-anchor="end" fill="#444444" font-family="'Liberation Sans', Arial, Helvetica, sans-serif" dy="14.08">2024-02</text>
<text transform="translate(661.75,1043.7) scale(1.19,1) rotate(-45)" font-size="18.77" text-anchor="end" fill="#444444" font-family="'Liberation Sans', Arial, Helvetica, sans-serif" dy="14.08">2024-03</text>
<text transform="translate(688.6,1043.7) scale(1.19,1) rotate(-45)" font-size="18.77" text-anchor="end" fill="#444444" font-family="'Liberation Sans', Arial, Helvetica, sans-serif" dy="14.08">2024-04</text>
<rect x="716.8" y="791.5" width="192.2" height="240.2" fill="#fff"/>
<path d="M716.8 1020.68H909M716.8 958.24H909M716.8 895.8H909M716.8 833.36H909" stroke="#EBEBEB" stroke-width="1.5" fill="none"/>
<path d="M716.8 989.46H909M716.8 927.02H909M716.8 864.58H909M716.8 802.14H909M732.3 791.5V1031.7M759.15 791.5V1031.7M786 791.5V1031.7M812.85 791.5V1031.7M839.7 791.5V1031.7M866.55 791.5V1031.7M893.4 791.5V1031.7" stroke="#EBEBEB" stroke-width="1.5" fill="none"/>
<polygon points="759.15,880.9 786,888.5 812.85,914.5 839.7,919.3 866.55,950.2 866.55,1009.8 839.7,976.9 812.85,945.4 786,940.6 759.15,959.1" fill="#333333" fill-opacity="0.5"/>
<polyline points="759.15,880.9 786,888.5 812.85,914.5 839.7,919.3 866.55,950.2" fill="none" stroke="#E7298A" stroke-width="1.9" stroke-linejoin="round"/>
<polyline points="759.15,959.1 786,940.6 812.85,945.4 839.7,976.9 866.55,1009.8" fill="none" stroke="#E7298A" stroke-width="1.9" stroke-linejoin="round"/>
<polyline points="732.3,942.6 759.15,928.2 786,914.5 812.85,929.6 839.7,948.8 866.55,979 893.4,959.8" fill="none" stroke="#E7298A" stroke-width="1.9" stroke-linejoin="round"/>
<rect x="716.8" y="791.5" width="192.2" height="240.2" fill="none" stroke="#222222" stroke-width="1.4"/>
<rect x="716.8" y="754" width="192.2" height="37.5" fill="#fff" stroke="#222222" stroke-width="1.4"/>
<rect x="718.5" y="755.7" width="188.8" height="34.1" fill="#D9D9D9"/>
<text transform="translate(811.9,780.19) scale(1.14,1)" font-size="19.27" text-anchor="middle" fill="#1A1A1A" font-family="'Liberation Sans', Arial, Helvetica, sans-serif" stroke="#1A1A1A" stroke-width="0.35">IBV</text>
<path d="M732.3 1031.7V1038.2M759.15 1031.7V1038.2M786 1031.7V1038.2M812.85 1031.7V1038.2M839.7 1031.7V1038.2M866.55 1031.7V1038.2M893.4 1031.7V1038.2" stroke="#222222" stroke-width="1.3" fill="none"/>
<text transform="translate(734.3,1043.7) scale(1.19,1) rotate(-45)" font-size="18.77" text-anchor="end" fill="#444444" font-family="'Liberation Sans', Arial, Helvetica, sans-serif" dy="14.08">2023-10</text>
<text transform="translate(761.15,1043.7) scale(1.19,1) rotate(-45)" font-size="18.77" text-anchor="end" fill="#444444" font-family="'Liberation Sans', Arial, Helvetica, sans-serif" dy="14.08">2023-11</text>
<text transform="translate(788,1043.7) scale(1.19,1) rotate(-45)" font-size="18.77" text-anchor="end" fill="#444444" font-family="'Liberation Sans', Arial, Helvetica, sans-serif" dy="14.08">2023-12</text>
<text transform="translate(814.85,1043.7) scale(1.19,1) rotate(-45)" font-size="18.77" text-anchor="end" fill="#444444" font-family="'Liberation Sans', Arial, Helvetica, sans-serif" dy="14.08">2024-01</text>
<text transform="translate(841.7,1043.7) scale(1.19,1) rotate(-45)" font-size="18.77" text-anchor="end" fill="#444444" font-family="'Liberation Sans', Arial, Helvetica, sans-serif" dy="14.08">2024-02</text>
<text transform="translate(868.55,1043.7) scale(1.19,1) rotate(-45)" font-size="18.77" text-anchor="end" fill="#444444" font-family="'Liberation Sans', Arial, Helvetica, sans-serif" dy="14.08">2024-03</text>
<text transform="translate(895.4,1043.7) scale(1.19,1) rotate(-45)" font-size="18.77" text-anchor="end" fill="#444444" font-family="'Liberation Sans', Arial, Helvetica, sans-serif" dy="14.08">2024-04</text>
<rect x="923.6" y="791.5" width="192.2" height="240.2" fill="#fff"/>
<path d="M923.6 1020.68H1115.8M923.6 958.24H1115.8M923.6 895.8H1115.8M923.6 833.36H1115.8" stroke="#EBEBEB" stroke-width="1.5" fill="none"/>
<path d="M923.6 989.46H1115.8M923.6 927.02H1115.8M923.6 864.58H1115.8M923.6 802.14H1115.8M939.1 791.5V1031.7M965.95 791.5V1031.7M992.8 791.5V1031.7M1019.65 791.5V1031.7M1046.5 791.5V1031.7M1073.35 791.5V1031.7M1100.2 791.5V1031.7" stroke="#EBEBEB" stroke-width="1.5" fill="none"/>
<polygon points="939.1,853.5 965.95,886.4 992.8,896.7 1019.65,893.7 1046.5,876.1 1073.35,805.5 1100.2,834.7 1100.2,881.6 1073.35,905.6 1046.5,916.6 1019.65,917.3 992.8,918.6 965.95,924.1 939.1,938.5" fill="#333333" fill-opacity="0.5"/>
<polyline points="939.1,853.5 965.95,886.4 992.8,896.7 1019.65,893.7 1046.5,876.1 1073.35,805.5 1100.2,834.7" fill="none" stroke="#66A61E" stroke-width="1.9" stroke-linejoin="round"/>
<polyline points="939.1,938.5 965.95,924.1 992.8,918.6 1019.65,917.3 1046.5,916.6 1073.35,905.6 1100.2,881.6" fill="none" stroke="#66A61E" stroke-width="1.9" stroke-linejoin="round"/>
<polyline points="939.1,896.7 965.95,907 992.8,907.7 1019.65,906.3 1046.5,896.7 1073.35,856.2 1100.2,858" fill="none" stroke="#66A61E" stroke-width="1.9" stroke-linejoin="round"/>
<rect x="923.6" y="791.5" width="192.2" height="240.2" fill="none" stroke="#222222" stroke-width="1.4"/>
<rect x="923.6" y="754" width="192.2" height="37.5" fill="#fff" stroke="#222222" stroke-width="1.4"/>
<rect x="925.3" y="755.7" width="188.8" height="34.1" fill="#D9D9D9"/>
<text transform="translate(1018.7,780.19) scale(1.14,1)" font-size="19.27" text-anchor="middle" fill="#1A1A1A" font-family="'Liberation Sans', Arial, Helvetica, sans-serif" stroke="#1A1A1A" stroke-width="0.35">MP</text>
<path d="M939.1 1031.7V1038.2M965.95 1031.7V1038.2M992.8 1031.7V1038.2M1019.65 1031.7V1038.2M1046.5 1031.7V1038.2M1073.35 1031.7V1038.2M1100.2 1031.7V1038.2" stroke="#222222" stroke-width="1.3" fill="none"/>
<text transform="translate(941.1,1043.7) scale(1.19,1) rotate(-45)" font-size="18.77" text-anchor="end" fill="#444444" font-family="'Liberation Sans', Arial, Helvetica, sans-serif" dy="14.08">2023-10</text>
<text transform="translate(967.95,1043.7) scale(1.19,1) rotate(-45)" font-size="18.77" text-anchor="end" fill="#444444" font-family="'Liberation Sans', Arial, Helvetica, sans-serif" dy="14.08">2023-11</text>
<text transform="translate(994.8,1043.7) scale(1.19,1) rotate(-45)" font-size="18.77" text-anchor="end" fill="#444444" font-family="'Liberation Sans', Arial, Helvetica, sans-serif" dy="14.08">2023-12</text>
<text transform="translate(1021.65,1043.7) scale(1.19,1) rotate(-45)" font-size="18.77" text-anchor="end" fill="#444444" font-family="'Liberation Sans', Arial, Helvetica, sans-serif" dy="14.08">2024-01</text>
<text transform="translate(1048.5,1043.7) scale(1.19,1) rotate(-45)" font-size="18.77" text-anchor="end" fill="#444444" font-family="'Liberation Sans', Arial, Helvetica, sans-serif" dy="14.08">2024-02</text>
<text transform="translate(1075.35,1043.7) scale(1.19,1) rotate(-45)" font-size="18.77" text-anchor="end" fill="#444444" font-family="'Liberation Sans', Arial, Helvetica, sans-serif" dy="14.08">2024-03</text>
<text transform="translate(1102.2,1043.7) scale(1.19,1) rotate(-45)" font-size="18.77" text-anchor="end" fill="#444444" font-family="'Liberation Sans', Arial, Helvetica, sans-serif" dy="14.08">2024-04</text>
<rect x="1130.4" y="791.5" width="192.2" height="240.2" fill="#fff"/>
<path d="M1130.4 1020.68H1322.6M1130.4 958.24H1322.6M1130.4 895.8H1322.6M1130.4 833.36H1322.6" stroke="#EBEBEB" stroke-width="1.5" fill="none"/>
<path d="M1130.4 989.46H1322.6M1130.4 927.02H1322.6M1130.4 864.58H1322.6M1130.4 802.14H1322.6M1145.9 791.5V1031.7M1172.75 791.5V1031.7M1199.6 791.5V1031.7M1226.45 791.5V1031.7M1253.3 791.5V1031.7M1280.15 791.5V1031.7M1307 791.5V1031.7" stroke="#EBEBEB" stroke-width="1.5" fill="none"/>
<polygon points="1172.75,909.7 1199.6,926.2 1226.45,933 1253.3,883 1280.15,874.1 1307,835 1307,896.7 1280.15,998.8 1253.3,979.6 1226.45,992 1199.6,963.9 1172.75,944.7" fill="#333333" fill-opacity="0.5"/>
<polyline points="1172.75,909.7 1199.6,926.2 1226.45,933 1253.3,883 1280.15,874.1 1307,835" fill="none" stroke="#E6AB02" stroke-width="1.9" stroke-linejoin="round"/>
<polyline points="1172.75,944.7 1199.6,963.9 1226.45,992 1253.3,979.6 1280.15,998.8 1307,896.7" fill="none" stroke="#E6AB02" stroke-width="1.9" stroke-linejoin="round"/>
<polyline points="1145.9,1021.5 1172.75,927.5 1199.6,946.7 1226.45,965.9 1253.3,934.4 1280.15,934.4 1307,866.5" fill="none" stroke="#E6AB02" stroke-width="1.9" stroke-linejoin="round"/>
<rect x="1130.4" y="791.5" width="192.2" height="240.2" fill="none" stroke="#222222" stroke-width="1.4"/>
<rect x="1130.4" y="754" width="192.2" height="37.5" fill="#fff" stroke="#222222" stroke-width="1.4"/>
<rect x="1132.1" y="755.7" width="188.8" height="34.1" fill="#D9D9D9"/>
<text transform="translate(1225.5,780.19) scale(1.14,1)" font-size="19.27" text-anchor="middle" fill="#1A1A1A" font-family="'Liberation Sans', Arial, Helvetica, sans-serif" stroke="#1A1A1A" stroke-width="0.35">RSV</text>
<path d="M1145.9 1031.7V1038.2M1172.75 1031.7V1038.2M1199.6 1031.7V1038.2M1226.45 1031.7V1038.2M1253.3 1031.7V1038.2M1280.15 1031.7V1038.2M1307 1031.7V1038.2" stroke="#222222" stroke-width="1.3" fill="none"/>
<text transform="translate(1147.9,1043.7) scale(1.19,1) rotate(-45)" font-size="18.77" text-anchor="end" fill="#444444" font-family="'Liberation Sans', Arial, Helvetica, sans-serif" dy="14.08">2023-10</text>
<text transform="translate(1174.75,1043.7) scale(1.19,1) rotate(-45)" font-size="18.77" text-anchor="end" fill="#444444" font-family="'Liberation Sans', Arial, Helvetica, sans-serif" dy="14.08">2023-11</text>
<text transform="translate(1201.6,1043.7) scale(1.19,1) rotate(-45)" font-size="18.77" text-anchor="end" fill="#444444" font-family="'Liberation Sans', Arial, Helvetica, sans-serif" dy="14.08">2023-12</text>
<text transform="translate(1228.45,1043.7) scale(1.19,1) rotate(-45)" font-size="18.77" text-anchor="end" fill="#444444" font-family="'Liberation Sans', Arial, Helvetica, sans-serif" dy="14.08">2024-01</text>
<text transform="translate(1255.3,1043.7) scale(1.19,1) rotate(-45)" font-size="18.77" text-anchor="end" fill="#444444" font-family="'Liberation Sans', Arial, Helvetica, sans-serif" dy="14.08">2024-02</text>
<text transform="translate(1282.15,1043.7) scale(1.19,1) rotate(-45)" font-size="18.77" text-anchor="end" fill="#444444" font-family="'Liberation Sans', Arial, Helvetica, sans-serif" dy="14.08">2024-03</text>
<text transform="translate(1309,1043.7) scale(1.19,1) rotate(-45)" font-size="18.77" text-anchor="end" fill="#444444" font-family="'Liberation Sans', Arial, Helvetica, sans-serif" dy="14.08">2024-04</text>
<rect x="1337.2" y="791.5" width="192.2" height="240.2" fill="#fff"/>
<path d="M1337.2 1020.68H1529.4M1337.2 958.24H1529.4M1337.2 895.8H1529.4M1337.2 833.36H1529.4" stroke="#EBEBEB" stroke-width="1.5" fill="none"/>
<path d="M1337.2 989.46H1529.4M1337.2 927.02H1529.4M1337.2 864.58H1529.4M1337.2 802.14H1529.4M1352.7 791.5V1031.7M1379.55 791.5V1031.7M1406.4 791.5V1031.7M1433.25 791.5V1031.7M1460.1 791.5V1031.7M1486.95 791.5V1031.7M1513.8 791.5V1031.7" stroke="#EBEBEB" stroke-width="1.5" fill="none"/>
<polygon points="1352.7,890.5 1379.55,819.2 1406.4,824.7 1433.25,829.5 1460.1,822.9 1486.95,858.3 1486.95,901.5 1460.1,935.8 1433.25,923.4 1406.4,918.6 1379.55,913.1 1352.7,981.7" fill="#333333" fill-opacity="0.5"/>
<polyline points="1352.7,890.5 1379.55,819.2 1406.4,824.7 1433.25,829.5 1460.1,822.9 1486.95,858.3" fill="none" stroke="#A6761D" stroke-width="1.9" stroke-linejoin="round"/>
<polyline points="1352.7,981.7 1379.55,913.1 1406.4,918.6 1433.25,923.4 1460.1,935.8 1486.95,901.5" fill="none" stroke="#A6761D" stroke-width="1.9" stroke-linejoin="round"/>
<polyline points="1352.7,931.7 1379.55,866.3 1406.4,871.3 1433.25,876.1 1460.1,872 1486.95,878.9 1513.8,819.2" fill="none" stroke="#A6761D" stroke-width="1.9" stroke-linejoin="round"/>
<rect x="1337.2" y="791.5" width="192.2" height="240.2" fill="none" stroke="#222222" stroke-width="1.4"/>
<rect x="1337.2" y="754" width="192.2" height="37.5" fill="#fff" stroke="#222222" stroke-width="1.4"/>
<rect x="1338.9" y="755.7" width="188.8" height="34.1" fill="#D9D9D9"/>
<text transform="translate(1432.3,780.19) scale(1.14,1)" font-size="19.27" text-anchor="middle" fill="#1A1A1A" font-family="'Liberation Sans', Arial, Helvetica, sans-serif" stroke="#1A1A1A" stroke-width="0.35">SARS-CoV-2</text>
<path d="M1352.7 1031.7V1038.2M1379.55 1031.7V1038.2M1406.4 1031.7V1038.2M1433.25 1031.7V1038.2M1460.1 1031.7V1038.2M1486.95 1031.7V1038.2M1513.8 1031.7V1038.2" stroke="#222222" stroke-width="1.3" fill="none"/>
<text transform="translate(1354.7,1043.7) scale(1.19,1) rotate(-45)" font-size="18.77" text-anchor="end" fill="#444444" font-family="'Liberation Sans', Arial, Helvetica, sans-serif" dy="14.08">2023-10</text>
<text transform="translate(1381.55,1043.7) scale(1.19,1) rotate(-45)" font-size="18.77" text-anchor="end" fill="#444444" font-family="'Liberation Sans', Arial, Helvetica, sans-serif" dy="14.08">2023-11</text>
<text transform="translate(1408.4,1043.7) scale(1.19,1) rotate(-45)" font-size="18.77" text-anchor="end" fill="#444444" font-family="'Liberation Sans', Arial, Helvetica, sans-serif" dy="14.08">2023-12</text>
<text transform="translate(1435.25,1043.7) scale(1.19,1) rotate(-45)" font-size="18.77" text-anchor="end" fill="#444444" font-family="'Liberation Sans', Arial, Helvetica, sans-serif" dy="14.08">2024-01</text>
<text transform="translate(1462.1,1043.7) scale(1.19,1) rotate(-45)" font-size="18.77" text-anchor="end" fill="#444444" font-family="'Liberation Sans', Arial, Helvetica, sans-serif" dy="14.08">2024-02</text>
<text transform="translate(1488.95,1043.7) scale(1.19,1) rotate(-45)" font-size="18.77" text-anchor="end" fill="#444444" font-family="'Liberation Sans', Arial, Helvetica, sans-serif" dy="14.08">2024-03</text>
<text transform="translate(1515.8,1043.7) scale(1.19,1) rotate(-45)" font-size="18.77" text-anchor="end" fill="#444444" font-family="'Liberation Sans', Arial, Helvetica, sans-serif" dy="14.08">2024-04</text>
<text transform="translate(81.7,997.2) scale(1.14,1)" font-size="19.27" text-anchor="end" fill="#444444" font-family="'Liberation Sans', Arial, Helvetica, sans-serif" stroke="#444444" stroke-width="0.35">4</text>
<text transform="translate(81.7,934.76) scale(1.14,1)" font-size="19.27" text-anchor="end" fill="#444444" font-family="'Liberation Sans', Arial, Helvetica, sans-serif" stroke="#444444" stroke-width="0.35">8</text>
<text transform="translate(81.7,872.32) scale(1.14,1)" font-size="19.27" text-anchor="end" fill="#444444" font-family="'Liberation Sans', Arial, Helvetica, sans-serif" stroke="#444444" stroke-width="0.35">12</text>
<text transform="translate(81.7,809.88) scale(1.14,1)" font-size="19.27" text-anchor="end" fill="#444444" font-family="'Liberation Sans', Arial, Helvetica, sans-serif" stroke="#444444" stroke-width="0.35">16</text>
<path d="M88.9 989.46H96.4M88.9 927.02H96.4M88.9 864.58H96.4M88.9 802.14H96.4" stroke="#222222" stroke-width="1.3" fill="none"/>
<text transform="translate(47.8,911.6) scale(1.17,1) rotate(-90)" font-size="23.42" text-anchor="middle" fill="#000" font-family="'Liberation Sans', Arial, Helvetica, sans-serif" stroke="#000" stroke-width="0.35">age</text>
<text transform="translate(812.9,1129.7) scale(1.17,1)" font-size="23.42" text-anchor="middle" fill="#000" font-family="'Liberation Sans', Arial, Helvetica, sans-serif" stroke="#000" stroke-width="0.35">year_month</text>
<text transform="translate(486.2,683.8) scale(1.17,1)" font-size="23.42" text-anchor="start" fill="#000" font-family="'Liberation Sans', Arial, Helvetica, sans-serif" stroke="#000" stroke-width="0.35">test_type</text>
<rect x="612.4" y="634.2" width="39.9" height="33.4" fill="#999999" stroke="#1B9E77" stroke-width="1.8"/>
<path d="M614 650.9H650.7" stroke="#1B9E77" stroke-width="2"/>
<text transform="translate(668,659.1) scale(1.14,1)" font-size="19.27" text-anchor="start" fill="#000" font-family="'Liberation Sans', Arial, Helvetica, sans-serif" stroke="#000" stroke-width="0.35">ADV</text>
<rect x="612.4" y="682.6" width="39.9" height="33.4" fill="#999999" stroke="#D95F02" stroke-width="1.8"/>
<path d="M614 699.3H650.7" stroke="#D95F02" stroke-width="2"/>
<text transform="translate(668,707.5) scale(1.14,1)" font-size="19.27" text-anchor="start" fill="#000" font-family="'Liberation Sans', Arial, Helvetica, sans-serif" stroke="#000" stroke-width="0.35">HRV</text>
<rect x="730.9" y="634.2" width="39.9" height="33.4" fill="#999999" stroke="#7570B3" stroke-width="1.8"/>
<path d="M732.5 650.9H769.2" stroke="#7570B3" stroke-width="2"/>
<text transform="translate(788.4,659.1) scale(1.14,1)" font-size="19.27" text-anchor="start" fill="#000" font-family="'Liberation Sans', Arial, Helvetica, sans-serif" stroke="#000" stroke-width="0.35">IAV</text>
<rect x="730.9" y="682.6" width="39.9" height="33.4" fill="#999999" stroke="#E7298A" stroke-width="1.8"/>
<path d="M732.5 699.3H769.2" stroke="#E7298A" stroke-width="2"/>
<text transform="translate(788.4,707.5) scale(1.14,1)" font-size="19.27" text-anchor="start" fill="#000" font-family="'Liberation Sans', Arial, Helvetica, sans-serif" stroke="#000" stroke-width="0.35">IBV</text>
<rect x="837.4" y="634.2" width="39.9" height="33.4" fill="#999999" stroke="#66A61E" stroke-width="1.8"/>
<path d="M839 650.9H875.7" stroke="#66A61E" stroke-width="2"/>
<text transform="translate(893.8,659.1) scale(1.14,1)" font-size="19.27" text-anchor="start" fill="#000" font-family="'Liberation Sans', Arial, Helvetica, sans-serif" stroke="#000" stroke-width="0.35">MP</text>
<rect x="837.4" y="682.6" width="39.9" height="33.4" fill="#999999" stroke="#E6AB02" stroke-width="1.8"/>
<path d="M839 699.3H875.7" stroke="#E6AB02" stroke-width="2"/>
<text transform="translate(893.8,707.5) scale(1.14,1)" font-size="19.27" text-anchor="start" fill="#000" font-family="'Liberation Sans', Arial, Helvetica, sans-serif" stroke="#000" stroke-width="0.35">RSV</text>
<rect x="954.6" y="634.2" width="39.9" height="33.4" fill="#999999" stroke="#A6761D" stroke-width="1.8"/>
<path d="M956.2 650.9H992.9" stroke="#A6761D" stroke-width="2"/>
<text transform="translate(1010.6,659.1) scale(1.14,1)" font-size="19.27" text-anchor="start" fill="#000" font-family="'Liberation Sans', Arial, Helvetica, sans-serif" stroke="#000" stroke-width="0.35">SARS-CoV-2</text>
<text transform="translate(1.3,634.9)" font-size="47" text-anchor="start" fill="#000" font-family="'Liberation Serif', 'Times New Roman', serif">b.</text>
<text transform="translate(809.7,1186) scale(0.97,1)" font-size="35" text-anchor="middle" fill="#000" font-family="'Liberation Serif', 'Times New Roman', serif" font-weight="bold">age &lt; 18</text>
<rect x="105.8" y="1419" width="191" height="240.4" fill="#fff"/>
<path d="M105.8 1617.49H296.8M105.8 1543.62H296.8M105.8 1469.76H296.8" stroke="#EBEBEB" stroke-width="1.5" fill="none"/>
<path d="M105.8 1654.43H296.8M105.8 1580.56H296.8M105.8 1506.69H296.8M105.8 1432.82H296.8M120.8 1419V1659.4M147.5 1419V1659.4M174.2 1419V1659.4M200.9 1419V1659.4M227.6 1419V1659.4M254.3 1419V1659.4M281 1419V1659.4" stroke="#EBEBEB" stroke-width="1.5" fill="none"/>
<polygon points="120.8,1496.4 147.5,1477 174.2,1524.7 200.9,1536.8 227.6,1521.1 254.3,1530.6 281,1507.3 281,1571.6 254.3,1586.1 227.6,1582.1 200.9,1585.7 174.2,1577.2 147.5,1567.5 120.8,1554" fill="#333333" fill-opacity="0.5"/>
<polyline points="120.8,1496.4 147.5,1477 174.2,1524.7 200.9,1536.8 227.6,1521.1 254.3,1530.6 281,1507.3" fill="none" stroke="#1B9E77" stroke-width="1.9" stroke-linejoin="round"/>
<polyline points="120.8,1554 147.5,1567.5 174.2,1577.2 200.9,1585.7 227.6,1582.1 254.3,1586.1 281,1571.6" fill="none" stroke="#1B9E77" stroke-width="1.9" stroke-linejoin="round"/>
<polyline points="120.8,1521.1 147.5,1519.7 174.2,1552 200.9,1561.1 227.6,1553.4 254.3,1558.8 281,1541.3" fill="none" stroke="#1B9E77" stroke-width="1.9" stroke-linejoin="round"/>
<rect x="105.8" y="1419" width="191" height="240.4" fill="none" stroke="#222222" stroke-width="1.4"/>
<rect x="105.8" y="1381.5" width="191" height="37.5" fill="#fff" stroke="#222222" stroke-width="1.4"/>
<rect x="107.5" y="1383.2" width="187.6" height="34.1" fill="#D9D9D9"/>
<text transform="translate(200.3,1407.64) scale(1.14,1)" font-size="19.13" text-anchor="middle" fill="#1A1A1A" font-family="'Liberation Sans', Arial, Helvetica, sans-serif" stroke="#1A1A1A" stroke-width="0.35">ADV</text>
<path d="M120.8 1659.4V1665.9M147.5 1659.4V1665.9M174.2 1659.4V1665.9M200.9 1659.4V1665.9M227.6 1659.4V1665.9M254.3 1659.4V1665.9M281 1659.4V1665.9" stroke="#222222" stroke-width="1.3" fill="none"/>
<text transform="translate(122.8,1671.4) scale(1.19,1) rotate(-45)" font-size="18.64" text-anchor="end" fill="#444444" font-family="'Liberation Sans', Arial, Helvetica, sans-serif" dy="13.98">2023-10</text>
<text transform="translate(149.5,1671.4) scale(1.19,1) rotate(-45)" font-size="18.64" text-anchor="end" fill="#444444" font-family="'Liberation Sans', Arial, Helvetica, sans-serif" dy="13.98">2023-11</text>
<text transform="translate(176.2,1671.4) scale(1.19,1) rotate(-45)" font-size="18.64" text-anchor="end" fill="#444444" font-family="'Liberation Sans', Arial, Helvetica, sans-serif" dy="13.98">2023-12</text>
<text transform="translate(202.9,1671.4) scale(1.19,1) rotate(-45)" font-size="18.64" text-anchor="end" fill="#444444" font-family="'Liberation Sans', Arial, Helvetica, sans-serif" dy="13.98">2024-01</text>
<text transform="translate(229.6,1671.4) scale(1.19,1) rotate(-45)" font-size="18.64" text-anchor="end" fill="#444444" font-family="'Liberation Sans', Arial, Helvetica, sans-serif" dy="13.98">2024-02</text>
<text transform="translate(256.3,1671.4) scale(1.19,1) rotate(-45)" font-size="18.64" text-anchor="end" fill="#444444" font-family="'Liberation Sans', Arial, Helvetica, sans-serif" dy="13.98">2024-03</text>
<text transform="translate(283,1671.4) scale(1.19,1) rotate(-45)" font-size="18.64" text-anchor="end" fill="#444444" font-family="'Liberation Sans', Arial, Helvetica, sans-serif" dy="13.98">2024-04</text>
<rect x="311.3" y="1419" width="191" height="240.4" fill="#fff"/>
<path d="M311.3 1617.49H502.3M311.3 1543.62H502.3M311.3 1469.76H502.3" stroke="#EBEBEB" stroke-width="1.5" fill="none"/>
<path d="M311.3 1654.43H502.3M311.3 1580.56H502.3M311.3 1506.69H502.3M311.3 1432.82H502.3M326.3 1419V1659.4M353 1419V1659.4M379.7 1419V1659.4M406.4 1419V1659.4M433.1 1419V1659.4M459.8 1419V1659.4M486.5 1419V1659.4" stroke="#EBEBEB" stroke-width="1.5" fill="none"/>
<polygon points="326.3,1469.8 353,1524 379.7,1531.5 406.4,1552.1 433.1,1491.1 459.8,1528.8 486.5,1553.5 486.5,1588.5 459.8,1572 433.1,1536.4 406.4,1598.1 379.7,1591.2 353,1619.3 326.3,1570.6" fill="#333333" fill-opacity="0.5"/>
<polyline points="326.3,1469.8 353,1524 379.7,1531.5 406.4,1552.1 433.1,1491.1 459.8,1528.8 486.5,1553.5" fill="none" stroke="#D95F02" stroke-width="1.9" stroke-linejoin="round"/>
<polyline points="326.3,1570.6 353,1619.3 379.7,1591.2 406.4,1598.1 433.1,1536.4 459.8,1572 486.5,1588.5" fill="none" stroke="#D95F02" stroke-width="1.9" stroke-linejoin="round"/>
<polyline points="326.3,1520.6 353,1571.3 379.7,1561 406.4,1574.1 433.1,1515.1 459.8,1550.1 486.5,1570" fill="none" stroke="#D95F02" stroke-width="1.9" stroke-linejoin="round"/>
<rect x="311.3" y="1419" width="191" height="240.4" fill="none" stroke="#222222" stroke-width="1.4"/>
<rect x="311.3" y="1381.5" width="191" height="37.5" fill="#fff" stroke="#222222" stroke-width="1.4"/>
<rect x="313" y="1383.2" width="187.6" height="34.1" fill="#D9D9D9"/>
<text transform="translate(405.8,1407.64) scale(1.14,1)" font-size="19.13" text-anchor="middle" fill="#1A1A1A" font-family="'Liberation Sans', Arial, Helvetica, sans-serif" stroke="#1A1A1A" stroke-width="0.35">HRV</text>
<path d="M326.3 1659.4V1665.9M353 1659.4V1665.9M379.7 1659.4V1665.9M406.4 1659.4V1665.9M433.1 1659.4V1665.9M459.8 1659.4V1665.9M486.5 1659.4V1665.9" stroke="#222222" stroke-width="1.3" fill="none"/>
<text transform="translate(328.3,1671.4) scale(1.19,1) rotate(-45)" font-size="18.64" text-anchor="end" fill="#444444" font-family="'Liberation Sans', Arial, Helvetica, sans-serif" dy="13.98">2023-10</text>
<text transform="translate(355,1671.4) scale(1.19,1) rotate(-45)" font-size="18.64" text-anchor="end" fill="#444444" font-family="'Liberation Sans', Arial, Helvetica, sans-serif" dy="13.98">2023-11</text>
<text transform="translate(381.7,1671.4) scale(1.19,1) rotate(-45)" font-size="18.64" text-anchor="end" fill="#444444" font-family="'Liberation Sans', Arial, Helvetica, sans-serif" dy="13.98">2023-12</text>
<text transform="translate(408.4,1671.4) scale(1.19,1) rotate(-45)" font-size="18.64" text-anchor="end" fill="#444444" font-family="'Liberation Sans', Arial, Helvetica, sans-serif" dy="13.98">2024-01</text>
<text transform="translate(435.1,1671.4) scale(1.19,1) rotate(-45)" font-size="18.64" text-anchor="end" fill="#444444" font-family="'Liberation Sans', Arial, Helvetica, sans-serif" dy="13.98">2024-02</text>
<text transform="translate(461.8,1671.4) scale(1.19,1) rotate(-45)" font-size="18.64" text-anchor="end" fill="#444444" font-family="'Liberation Sans', Arial, Helvetica, sans-serif" dy="13.98">2024-03</text>
<text transform="translate(488.5,1671.4) scale(1.19,1) rotate(-45)" font-size="18.64" text-anchor="end" fill="#444444" font-family="'Liberation Sans', Arial, Helvetica, sans-serif" dy="13.98">2024-04</text>
<rect x="516.8" y="1419" width="191" height="240.4" fill="#fff"/>
<path d="M516.8 1617.49H707.8M516.8 1543.62H707.8M516.8 1469.76H707.8" stroke="#EBEBEB" stroke-width="1.5" fill="none"/>
<path d="M516.8 1654.43H707.8M516.8 1580.56H707.8M516.8 1506.69H707.8M516.8 1432.82H707.8M531.8 1419V1659.4M558.5 1419V1659.4M585.2 1419V1659.4M611.9 1419V1659.4M638.6 1419V1659.4M665.3 1419V1659.4M692 1419V1659.4" stroke="#EBEBEB" stroke-width="1.5" fill="none"/>
<polygon points="531.8,1470.5 558.5,1503.9 585.2,1508.2 611.9,1500.7 638.6,1430.8 665.3,1484.2 692,1511 692,1587.1 665.3,1562.4 638.6,1535 611.9,1549.4 585.2,1532.2 558.5,1535.9 531.8,1648.1" fill="#333333" fill-opacity="0.5"/>
<polyline points="531.8,1470.5 558.5,1503.9 585.2,1508.2 611.9,1500.7 638.6,1430.8 665.3,1484.2 692,1511" fill="none" stroke="#7570B3" stroke-width="1.9" stroke-linejoin="round"/>
<polyline points="531.8,1648.1 558.5,1535.9 585.2,1532.2 611.9,1549.4 638.6,1535 665.3,1562.4 692,1587.1" fill="none" stroke="#7570B3" stroke-width="1.9" stroke-linejoin="round"/>
<polyline points="531.8,1570 558.5,1519.9 585.2,1519.9 611.9,1524.7 638.6,1475.3 665.3,1526.1 692,1551.4" fill="none" stroke="#7570B3" stroke-width="1.9" stroke-linejoin="round"/>
<rect x="516.8" y="1419" width="191" height="240.4" fill="none" stroke="#222222" stroke-width="1.4"/>
<rect x="516.8" y="1381.5" width="191" height="37.5" fill="#fff" stroke="#222222" stroke-width="1.4"/>
<rect x="518.5" y="1383.2" width="187.6" height="34.1" fill="#D9D9D9"/>
<text transform="translate(611.3,1407.64) scale(1.14,1)" font-size="19.13" text-anchor="middle" fill="#1A1A1A" font-family="'Liberation Sans', Arial, Helvetica, sans-serif" stroke="#1A1A1A" stroke-width="0.35">IAV</text>
<path d="M531.8 1659.4V1665.9M558.5 1659.4V1665.9M585.2 1659.4V1665.9M611.9 1659.4V1665.9M638.6 1659.4V1665.9M665.3 1659.4V1665.9M692 1659.4V1665.9" stroke="#222222" stroke-width="1.3" fill="none"/>
<text transform="translate(533.8,1671.4) scale(1.19,1) rotate(-45)" font-size="18.64" text-anchor="end" fill="#444444" font-family="'Liberation Sans', Arial, Helvetica, sans-serif" dy="13.98">2023-10</text>
<text transform="translate(560.5,1671.4) scale(1.19,1) rotate(-45)" font-size="18.64" text-anchor="end" fill="#444444" font-family="'Liberation Sans', Arial, Helvetica, sans-serif" dy="13.98">2023-11</text>
<text transform="translate(587.2,1671.4) scale(1.19,1) rotate(-45)" font-size="18.64" text-anchor="end" fill="#444444" font-family="'Liberation Sans', Arial, Helvetica, sans-serif" dy="13.98">2023-12</text>
<text transform="translate(613.9,1671.4) scale(1.19,1) rotate(-45)" font-size="18.64" text-anchor="end" fill="#444444" font-family="'Liberation Sans', Arial, Helvetica, sans-serif" dy="13.98">2024-01</text>
<text transform="translate(640.6,1671.4) scale(1.19,1) rotate(-45)" font-size="18.64" text-anchor="end" fill="#444444" font-family="'Liberation Sans', Arial, Helvetica, sans-serif" dy="13.98">2024-02</text>
<text transform="translate(667.3,1671.4) scale(1.19,1) rotate(-45)" font-size="18.64" text-anchor="end" fill="#444444" font-family="'Liberation Sans', Arial, Helvetica, sans-serif" dy="13.98">2024-03</text>
<text transform="translate(694,1671.4) scale(1.19,1) rotate(-45)" font-size="18.64" text-anchor="end" fill="#444444" font-family="'Liberation Sans', Arial, Helvetica, sans-serif" dy="13.98">2024-04</text>
<rect x="722.3" y="1419" width="191" height="240.4" fill="#fff"/>
<path d="M722.3 1617.49H913.3M722.3 1543.62H913.3M722.3 1469.76H913.3" stroke="#EBEBEB" stroke-width="1.5" fill="none"/>
<path d="M722.3 1654.43H913.3M722.3 1580.56H913.3M722.3 1506.69H913.3M722.3 1432.82H913.3M737.3 1419V1659.4M764 1419V1659.4M790.7 1419V1659.4M817.4 1419V1659.4M844.1 1419V1659.4M870.8 1419V1659.4M897.5 1419V1659.4" stroke="#EBEBEB" stroke-width="1.5" fill="none"/>
<polygon points="790.7,1570 817.4,1556.2 844.1,1527.4 870.8,1543.2 897.5,1436.3 897.5,1591.2 870.8,1590.5 844.1,1561 817.4,1574.7 790.7,1598.7" fill="#333333" fill-opacity="0.5"/>
<polyline points="790.7,1570 817.4,1556.2 844.1,1527.4 870.8,1543.2 897.5,1436.3" fill="none" stroke="#E7298A" stroke-width="1.9" stroke-linejoin="round"/>
<polyline points="790.7,1598.7 817.4,1574.7 844.1,1561 870.8,1590.5 897.5,1591.2" fill="none" stroke="#E7298A" stroke-width="1.9" stroke-linejoin="round"/>
<polyline points="764,1639.9 790.7,1586.4 817.4,1567.9 844.1,1544.6 870.8,1567.9 897.5,1536.4" fill="none" stroke="#E7298A" stroke-width="1.9" stroke-linejoin="round"/>
<rect x="722.3" y="1419" width="191" height="240.4" fill="none" stroke="#222222" stroke-width="1.4"/>
<rect x="722.3" y="1381.5" width="191" height="37.5" fill="#fff" stroke="#222222" stroke-width="1.4"/>
<rect x="724" y="1383.2" width="187.6" height="34.1" fill="#D9D9D9"/>
<text transform="translate(816.8,1407.64) scale(1.14,1)" font-size="19.13" text-anchor="middle" fill="#1A1A1A" font-family="'Liberation Sans', Arial, Helvetica, sans-serif" stroke="#1A1A1A" stroke-width="0.35">IBV</text>
<path d="M737.3 1659.4V1665.9M764 1659.4V1665.9M790.7 1659.4V1665.9M817.4 1659.4V1665.9M844.1 1659.4V1665.9M870.8 1659.4V1665.9M897.5 1659.4V1665.9" stroke="#222222" stroke-width="1.3" fill="none"/>
<text transform="translate(739.3,1671.4) scale(1.19,1) rotate(-45)" font-size="18.64" text-anchor="end" fill="#444444" font-family="'Liberation Sans', Arial, Helvetica, sans-serif" dy="13.98">2023-10</text>
<text transform="translate(766,1671.4) scale(1.19,1) rotate(-45)" font-size="18.64" text-anchor="end" fill="#444444" font-family="'Liberation Sans', Arial, Helvetica, sans-serif" dy="13.98">2023-11</text>
<text transform="translate(792.7,1671.4) scale(1.19,1) rotate(-45)" font-size="18.64" text-anchor="end" fill="#444444" font-family="'Liberation Sans', Arial, Helvetica, sans-serif" dy="13.98">2023-12</text>
<text transform="translate(819.4,1671.4) scale(1.19,1) rotate(-45)" font-size="18.64" text-anchor="end" fill="#444444" font-family="'Liberation Sans', Arial, Helvetica, sans-serif" dy="13.98">2024-01</text>
<text transform="translate(846.1,1671.4) scale(1.19,1) rotate(-45)" font-size="18.64" text-anchor="end" fill="#444444" font-family="'Liberation Sans', Arial, Helvetica, sans-serif" dy="13.98">2024-02</text>
<text transform="translate(872.8,1671.4) scale(1.19,1) rotate(-45)" font-size="18.64" text-anchor="end" fill="#444444" font-family="'Liberation Sans', Arial, Helvetica, sans-serif" dy="13.98">2024-03</text>
<text transform="translate(899.5,1671.4) scale(1.19,1) rotate(-45)" font-size="18.64" text-anchor="end" fill="#444444" font-family="'Liberation Sans', Arial, Helvetica, sans-serif" dy="13.98">2024-04</text>
<rect x="927.8" y="1419" width="191" height="240.4" fill="#fff"/>
<path d="M927.8 1617.49H1118.8M927.8 1543.62H1118.8M927.8 1469.76H1118.8" stroke="#EBEBEB" stroke-width="1.5" fill="none"/>
<path d="M927.8 1654.43H1118.8M927.8 1580.56H1118.8M927.8 1506.69H1118.8M927.8 1432.82H1118.8M942.8 1419V1659.4M969.5 1419V1659.4M996.2 1419V1659.4M1022.9 1419V1659.4M1049.6 1419V1659.4M1076.3 1419V1659.4M1103 1419V1659.4" stroke="#EBEBEB" stroke-width="1.5" fill="none"/>
<polygon points="942.8,1532.9 969.5,1491.8 996.2,1512.4 1022.9,1504.8 1049.6,1532.2 1076.3,1535.7 1103,1485.6 1103,1569.3 1076.3,1589.8 1049.6,1589.8 1022.9,1552.1 996.2,1566.1 969.5,1565.6 942.8,1594.6" fill="#333333" fill-opacity="0.5"/>
<polyline points="942.8,1532.9 969.5,1491.8 996.2,1512.4 1022.9,1504.8 1049.6,1532.2 1076.3,1535.7 1103,1485.6" fill="none" stroke="#66A61E" stroke-width="1.9" stroke-linejoin="round"/>
<polyline points="942.8,1594.6 969.5,1565.6 996.2,1566.1 1022.9,1552.1 1049.6,1589.8 1076.3,1589.8 1103,1569.3" fill="none" stroke="#66A61E" stroke-width="1.9" stroke-linejoin="round"/>
<polyline points="942.8,1565.8 969.5,1529.9 996.2,1539.5 1022.9,1528.1 1049.6,1560.3 1076.3,1563.8 1103,1530.9" fill="none" stroke="#66A61E" stroke-width="1.9" stroke-linejoin="round"/>
<rect x="927.8" y="1419" width="191" height="240.4" fill="none" stroke="#222222" stroke-width="1.4"/>
<rect x="927.8" y="1381.5" width="191" height="37.5" fill="#fff" stroke="#222222" stroke-width="1.4"/>
<rect x="929.5" y="1383.2" width="187.6" height="34.1" fill="#D9D9D9"/>
<text transform="translate(1022.3,1407.64) scale(1.14,1)" font-size="19.13" text-anchor="middle" fill="#1A1A1A" font-family="'Liberation Sans', Arial, Helvetica, sans-serif" stroke="#1A1A1A" stroke-width="0.35">MP</text>
<path d="M942.8 1659.4V1665.9M969.5 1659.4V1665.9M996.2 1659.4V1665.9M1022.9 1659.4V1665.9M1049.6 1659.4V1665.9M1076.3 1659.4V1665.9M1103 1659.4V1665.9" stroke="#222222" stroke-width="1.3" fill="none"/>
<text transform="translate(944.8,1671.4) scale(1.19,1) rotate(-45)" font-size="18.64" text-anchor="end" fill="#444444" font-family="'Liberation Sans', Arial, Helvetica, sans-serif" dy="13.98">2023-10</text>
<text transform="translate(971.5,1671.4) scale(1.19,1) rotate(-45)" font-size="18.64" text-anchor="end" fill="#444444" font-family="'Liberation Sans', Arial, Helvetica, sans-serif" dy="13.98">2023-11</text>
<text transform="translate(998.2,1671.4) scale(1.19,1) rotate(-45)" font-size="18.64" text-anchor="end" fill="#444444" font-family="'Liberation Sans', Arial, Helvetica, sans-serif" dy="13.98">2023-12</text>
<text transform="translate(1024.9,1671.4) scale(1.19,1) rotate(-45)" font-size="18.64" text-anchor="end" fill="#444444" font-family="'Liberation Sans', Arial, Helvetica, sans-serif" dy="13.98">2024-01</text>
<text transform="translate(1051.6,1671.4) scale(1.19,1) rotate(-45)" font-size="18.64" text-anchor="end" fill="#444444" font-family="'Liberation Sans', Arial, Helvetica, sans-serif" dy="13.98">2024-02</text>
<text transform="translate(1078.3,1671.4) scale(1.19,1) rotate(-45)" font-size="18.64" text-anchor="end" fill="#444444" font-family="'Liberation Sans', Arial, Helvetica, sans-serif" dy="13.98">2024-03</text>
<text transform="translate(1105,1671.4) scale(1.19,1) rotate(-45)" font-size="18.64" text-anchor="end" fill="#444444" font-family="'Liberation Sans', Arial, Helvetica, sans-serif" dy="13.98">2024-04</text>
<rect x="1133.3" y="1419" width="191" height="240.4" fill="#fff"/>
<path d="M1133.3 1617.49H1324.3M1133.3 1543.62H1324.3M1133.3 1469.76H1324.3" stroke="#EBEBEB" stroke-width="1.5" fill="none"/>
<path d="M1133.3 1654.43H1324.3M1133.3 1580.56H1324.3M1133.3 1506.69H1324.3M1133.3 1432.82H1324.3M1148.3 1419V1659.4M1175 1419V1659.4M1201.7 1419V1659.4M1228.4 1419V1659.4M1255.1 1419V1659.4M1281.8 1419V1659.4M1308.5 1419V1659.4" stroke="#EBEBEB" stroke-width="1.5" fill="none"/>
<polygon points="1148.3,1514.4 1175,1491.1 1201.7,1506.2 1228.4,1517.6 1255.1,1513 1281.8,1516.2 1308.5,1549.4 1308.5,1598.1 1281.8,1554.2 1255.1,1539.5 1228.4,1541.4 1201.7,1541.8 1175,1604.9 1148.3,1613.8" fill="#333333" fill-opacity="0.5"/>
<polyline points="1148.3,1514.4 1175,1491.1 1201.7,1506.2 1228.4,1517.6 1255.1,1513 1281.8,1516.2 1308.5,1549.4" fill="none" stroke="#E6AB02" stroke-width="1.9" stroke-linejoin="round"/>
<polyline points="1148.3,1613.8 1175,1604.9 1201.7,1541.8 1228.4,1541.4 1255.1,1539.5 1281.8,1554.2 1308.5,1598.1" fill="none" stroke="#E6AB02" stroke-width="1.9" stroke-linejoin="round"/>
<polyline points="1148.3,1576.1 1175,1548.7 1201.7,1525.4 1228.4,1528.8 1255.1,1526.8 1281.8,1534.3 1308.5,1574.1" fill="none" stroke="#E6AB02" stroke-width="1.9" stroke-linejoin="round"/>
<rect x="1133.3" y="1419" width="191" height="240.4" fill="none" stroke="#222222" stroke-width="1.4"/>
<rect x="1133.3" y="1381.5" width="191" height="37.5" fill="#fff" stroke="#222222" stroke-width="1.4"/>
<rect x="1135" y="1383.2" width="187.6" height="34.1" fill="#D9D9D9"/>
<text transform="translate(1227.8,1407.64) scale(1.14,1)" font-size="19.13" text-anchor="middle" fill="#1A1A1A" font-family="'Liberation Sans', Arial, Helvetica, sans-serif" stroke="#1A1A1A" stroke-width="0.35">RSV</text>
<path d="M1148.3 1659.4V1665.9M1175 1659.4V1665.9M1201.7 1659.4V1665.9M1228.4 1659.4V1665.9M1255.1 1659.4V1665.9M1281.8 1659.4V1665.9M1308.5 1659.4V1665.9" stroke="#222222" stroke-width="1.3" fill="none"/>
<text transform="translate(1150.3,1671.4) scale(1.19,1) rotate(-45)" font-size="18.64" text-anchor="end" fill="#444444" font-family="'Liberation Sans', Arial, Helvetica, sans-serif" dy="13.98">2023-10</text>
<text transform="translate(1177,1671.4) scale(1.19,1) rotate(-45)" font-size="18.64" text-anchor="end" fill="#444444" font-family="'Liberation Sans', Arial, Helvetica, sans-serif" dy="13.98">2023-11</text>
<text transform="translate(1203.7,1671.4) scale(1.19,1) rotate(-45)" font-size="18.64" text-anchor="end" fill="#444444" font-family="'Liberation Sans', Arial, Helvetica, sans-serif" dy="13.98">2023-12</text>
<text transform="translate(1230.4,1671.4) scale(1.19,1) rotate(-45)" font-size="18.64" text-anchor="end" fill="#444444" font-family="'Liberation Sans', Arial, Helvetica, sans-serif" dy="13.98">2024-01</text>
<text transform="translate(1257.1,1671.4) scale(1.19,1) rotate(-45)" font-size="18.64" text-anchor="end" fill="#444444" font-family="'Liberation Sans', Arial, Helvetica, sans-serif" dy="13.98">2024-02</text>
<text transform="translate(1283.8,1671.4) scale(1.19,1) rotate(-45)" font-size="18.64" text-anchor="end" fill="#444444" font-family="'Liberation Sans', Arial, Helvetica, sans-serif" dy="13.98">2024-03</text>
<text transform="translate(1310.5,1671.4) scale(1.19,1) rotate(-45)" font-size="18.64" text-anchor="end" fill="#444444" font-family="'Liberation Sans', Arial, Helvetica, sans-serif" dy="13.98">2024-04</text>
<rect x="1338.8" y="1419" width="191" height="240.4" fill="#fff"/>
<path d="M1338.8 1617.49H1529.8M1338.8 1543.62H1529.8M1338.8 1469.76H1529.8" stroke="#EBEBEB" stroke-width="1.5" fill="none"/>
<path d="M1338.8 1654.43H1529.8M1338.8 1580.56H1529.8M1338.8 1506.69H1529.8M1338.8 1432.82H1529.8M1353.8 1419V1659.4M1380.5 1419V1659.4M1407.2 1419V1659.4M1433.9 1419V1659.4M1460.6 1419V1659.4M1487.3 1419V1659.4M1514 1419V1659.4" stroke="#EBEBEB" stroke-width="1.5" fill="none"/>
<polygon points="1353.8,1502.1 1380.5,1487.7 1407.2,1500 1433.9,1495.9 1460.6,1503.4 1487.3,1515.1 1514,1497.3 1514,1525.4 1487.3,1534.3 1460.6,1528.1 1433.9,1532.9 1407.2,1556.2 1380.5,1521.7 1353.8,1539.5" fill="#333333" fill-opacity="0.5"/>
<polyline points="1353.8,1502.1 1380.5,1487.7 1407.2,1500 1433.9,1495.9 1460.6,1503.4 1487.3,1515.1 1514,1497.3" fill="none" stroke="#A6761D" stroke-width="1.9" stroke-linejoin="round"/>
<polyline points="1353.8,1539.5 1380.5,1521.7 1407.2,1556.2 1433.9,1532.9 1460.6,1528.1 1487.3,1534.3 1514,1525.4" fill="none" stroke="#A6761D" stroke-width="1.9" stroke-linejoin="round"/>
<polyline points="1353.8,1520.6 1380.5,1504.8 1407.2,1527.7 1433.9,1514.4 1460.6,1514.4 1487.3,1524.4 1514,1511" fill="none" stroke="#A6761D" stroke-width="1.9" stroke-linejoin="round"/>
<rect x="1338.8" y="1419" width="191" height="240.4" fill="none" stroke="#222222" stroke-width="1.4"/>
<rect x="1338.8" y="1381.5" width="191" height="37.5" fill="#fff" stroke="#222222" stroke-width="1.4"/>
<rect x="1340.5" y="1383.2" width="187.6" height="34.1" fill="#D9D9D9"/>
<text transform="translate(1433.3,1407.64) scale(1.14,1)" font-size="19.13" text-anchor="middle" fill="#1A1A1A" font-family="'Liberation Sans', Arial, Helvetica, sans-serif" stroke="#1A1A1A" stroke-width="0.35">SARS-CoV-2</text>
<path d="M1353.8 1659.4V1665.9M1380.5 1659.4V1665.9M1407.2 1659.4V1665.9M1433.9 1659.4V1665.9M1460.6 1659.4V1665.9M1487.3 1659.4V1665.9M1514 1659.4V1665.9" stroke="#222222" stroke-width="1.3" fill="none"/>
<text transform="translate(1355.8,1671.4) scale(1.19,1) rotate(-45)" font-size="18.64" text-anchor="end" fill="#444444" font-family="'Liberation Sans', Arial, Helvetica, sans-serif" dy="13.98">2023-10</text>
<text transform="translate(1382.5,1671.4) scale(1.19,1) rotate(-45)" font-size="18.64" text-anchor="end" fill="#444444" font-family="'Liberation Sans', Arial, Helvetica, sans-serif" dy="13.98">2023-11</text>
<text transform="translate(1409.2,1671.4) scale(1.19,1) rotate(-45)" font-size="18.64" text-anchor="end" fill="#444444" font-family="'Liberation Sans', Arial, Helvetica, sans-serif" dy="13.98">2023-12</text>
<text transform="translate(1435.9,1671.4) scale(1.19,1) rotate(-45)" font-size="18.64" text-anchor="end" fill="#444444" font-family="'Liberation Sans', Arial, Helvetica, sans-serif" dy="13.98">2024-01</text>
<text transform="translate(1462.6,1671.4) scale(1.19,1) rotate(-45)" font-size="18.64" text-anchor="end" fill="#444444" font-family="'Liberation Sans', Arial, Helvetica, sans-serif" dy="13.98">2024-02</text>
<text transform="translate(1489.3,1671.4) scale(1.19,1) rotate(-45)" font-size="18.64" text-anchor="end" fill="#444444" font-family="'Liberation Sans', Arial, Helvetica, sans-serif" dy="13.98">2024-03</text>
<text transform="translate(1516,1671.4) scale(1.19,1) rotate(-45)" font-size="18.64" text-anchor="end" fill="#444444" font-family="'Liberation Sans', Arial, Helvetica, sans-serif" dy="13.98">2024-04</text>
<text transform="translate(90.9,1662.12) scale(1.14,1)" font-size="19.13" text-anchor="end" fill="#444444" font-family="'Liberation Sans', Arial, Helvetica, sans-serif" stroke="#444444" stroke-width="0.35">20</text>
<text transform="translate(90.9,1588.25) scale(1.14,1)" font-size="19.13" text-anchor="end" fill="#444444" font-family="'Liberation Sans', Arial, Helvetica, sans-serif" stroke="#444444" stroke-width="0.35">40</text>
<text transform="translate(90.9,1514.38) scale(1.14,1)" font-size="19.13" text-anchor="end" fill="#444444" font-family="'Liberation Sans', Arial, Helvetica, sans-serif" stroke="#444444" stroke-width="0.35">60</text>
<text transform="translate(90.9,1440.51) scale(1.14,1)" font-size="19.13" text-anchor="end" fill="#444444" font-family="'Liberation Sans', Arial, Helvetica, sans-serif" stroke="#444444" stroke-width="0.35">80</text>
<path d="M98.3 1654.43H105.8M98.3 1580.56H105.8M98.3 1506.69H105.8M98.3 1432.82H105.8" stroke="#222222" stroke-width="1.3" fill="none"/>
<text transform="translate(56.6,1539.2) scale(1.17,1) rotate(-90)" font-size="23.25" text-anchor="middle" fill="#000" font-family="'Liberation Sans', Arial, Helvetica, sans-serif" stroke="#000" stroke-width="0.35">age</text>
<text transform="translate(817.8,1757.5) scale(1.17,1)" font-size="23.25" text-anchor="middle" fill="#000" font-family="'Liberation Sans', Arial, Helvetica, sans-serif" stroke="#000" stroke-width="0.35">year_month</text>
<text transform="translate(492.9,1312) scale(1.17,1)" font-size="23.25" text-anchor="start" fill="#000" font-family="'Liberation Sans', Arial, Helvetica, sans-serif" stroke="#000" stroke-width="0.35">test_type</text>
<rect x="618.7" y="1262.1" width="39" height="33.2" fill="#999999" stroke="#1B9E77" stroke-width="1.8"/>
<path d="M620.3 1278.7H656.1" stroke="#1B9E77" stroke-width="2"/>
<text transform="translate(673.8,1287) scale(1.14,1)" font-size="19.13" text-anchor="start" fill="#000" font-family="'Liberation Sans', Arial, Helvetica, sans-serif" stroke="#000" stroke-width="0.35">ADV</text>
<rect x="618.7" y="1310.5" width="39" height="33.2" fill="#999999" stroke="#D95F02" stroke-width="1.8"/>
<path d="M620.3 1327.1H656.1" stroke="#D95F02" stroke-width="2"/>
<text transform="translate(673.8,1335.4) scale(1.14,1)" font-size="19.13" text-anchor="start" fill="#000" font-family="'Liberation Sans', Arial, Helvetica, sans-serif" stroke="#000" stroke-width="0.35">HRV</text>
<rect x="736.2" y="1262.1" width="39" height="33.2" fill="#999999" stroke="#7570B3" stroke-width="1.8"/>
<path d="M737.8 1278.7H773.6" stroke="#7570B3" stroke-width="2"/>
<text transform="translate(793.1,1287) scale(1.14,1)" font-size="19.13" text-anchor="start" fill="#000" font-family="'Liberation Sans', Arial, Helvetica, sans-serif" stroke="#000" stroke-width="0.35">IAV</text>
<rect x="736.2" y="1310.5" width="39" height="33.2" fill="#999999" stroke="#E7298A" stroke-width="1.8"/>
<path d="M737.8 1327.1H773.6" stroke="#E7298A" stroke-width="2"/>
<text transform="translate(793.1,1335.4) scale(1.14,1)" font-size="19.13" text-anchor="start" fill="#000" font-family="'Liberation Sans', Arial, Helvetica, sans-serif" stroke="#000" stroke-width="0.35">IBV</text>
<rect x="841.8" y="1262.1" width="39" height="33.2" fill="#999999" stroke="#66A61E" stroke-width="1.8"/>
<path d="M843.4 1278.7H879.2" stroke="#66A61E" stroke-width="2"/>
<text transform="translate(898.2,1287) scale(1.14,1)" font-size="19.13" text-anchor="start" fill="#000" font-family="'Liberation Sans', Arial, Helvetica, sans-serif" stroke="#000" stroke-width="0.35">MP</text>
<rect x="841.8" y="1310.5" width="39" height="33.2" fill="#999999" stroke="#E6AB02" stroke-width="1.8"/>
<path d="M843.4 1327.1H879.2" stroke="#E6AB02" stroke-width="2"/>
<text transform="translate(898.2,1335.4) scale(1.14,1)" font-size="19.13" text-anchor="start" fill="#000" font-family="'Liberation Sans', Arial, Helvetica, sans-serif" stroke="#000" stroke-width="0.35">RSV</text>
<rect x="958.6" y="1262.1" width="39" height="33.2" fill="#999999" stroke="#A6761D" stroke-width="1.8"/>
<path d="M960.2 1278.7H996" stroke="#A6761D" stroke-width="2"/>
<text transform="translate(1014.2,1287) scale(1.14,1)" font-size="19.13" text-anchor="start" fill="#000" font-family="'Liberation Sans', Arial, Helvetica, sans-serif" stroke="#000" stroke-width="0.35">SARS-CoV-2</text>
<text transform="translate(1.8,1266.9)" font-size="47" text-anchor="start" fill="#000" font-family="'Liberation Serif', 'Times New Roman', serif">c.</text>
<text transform="translate(822,1812.3)" font-size="35" text-anchor="middle" fill="#000" font-family="'Liberation Serif', 'Times New Roman', serif" font-weight="bold">age ≥ 18</text>
</svg></body></html>
